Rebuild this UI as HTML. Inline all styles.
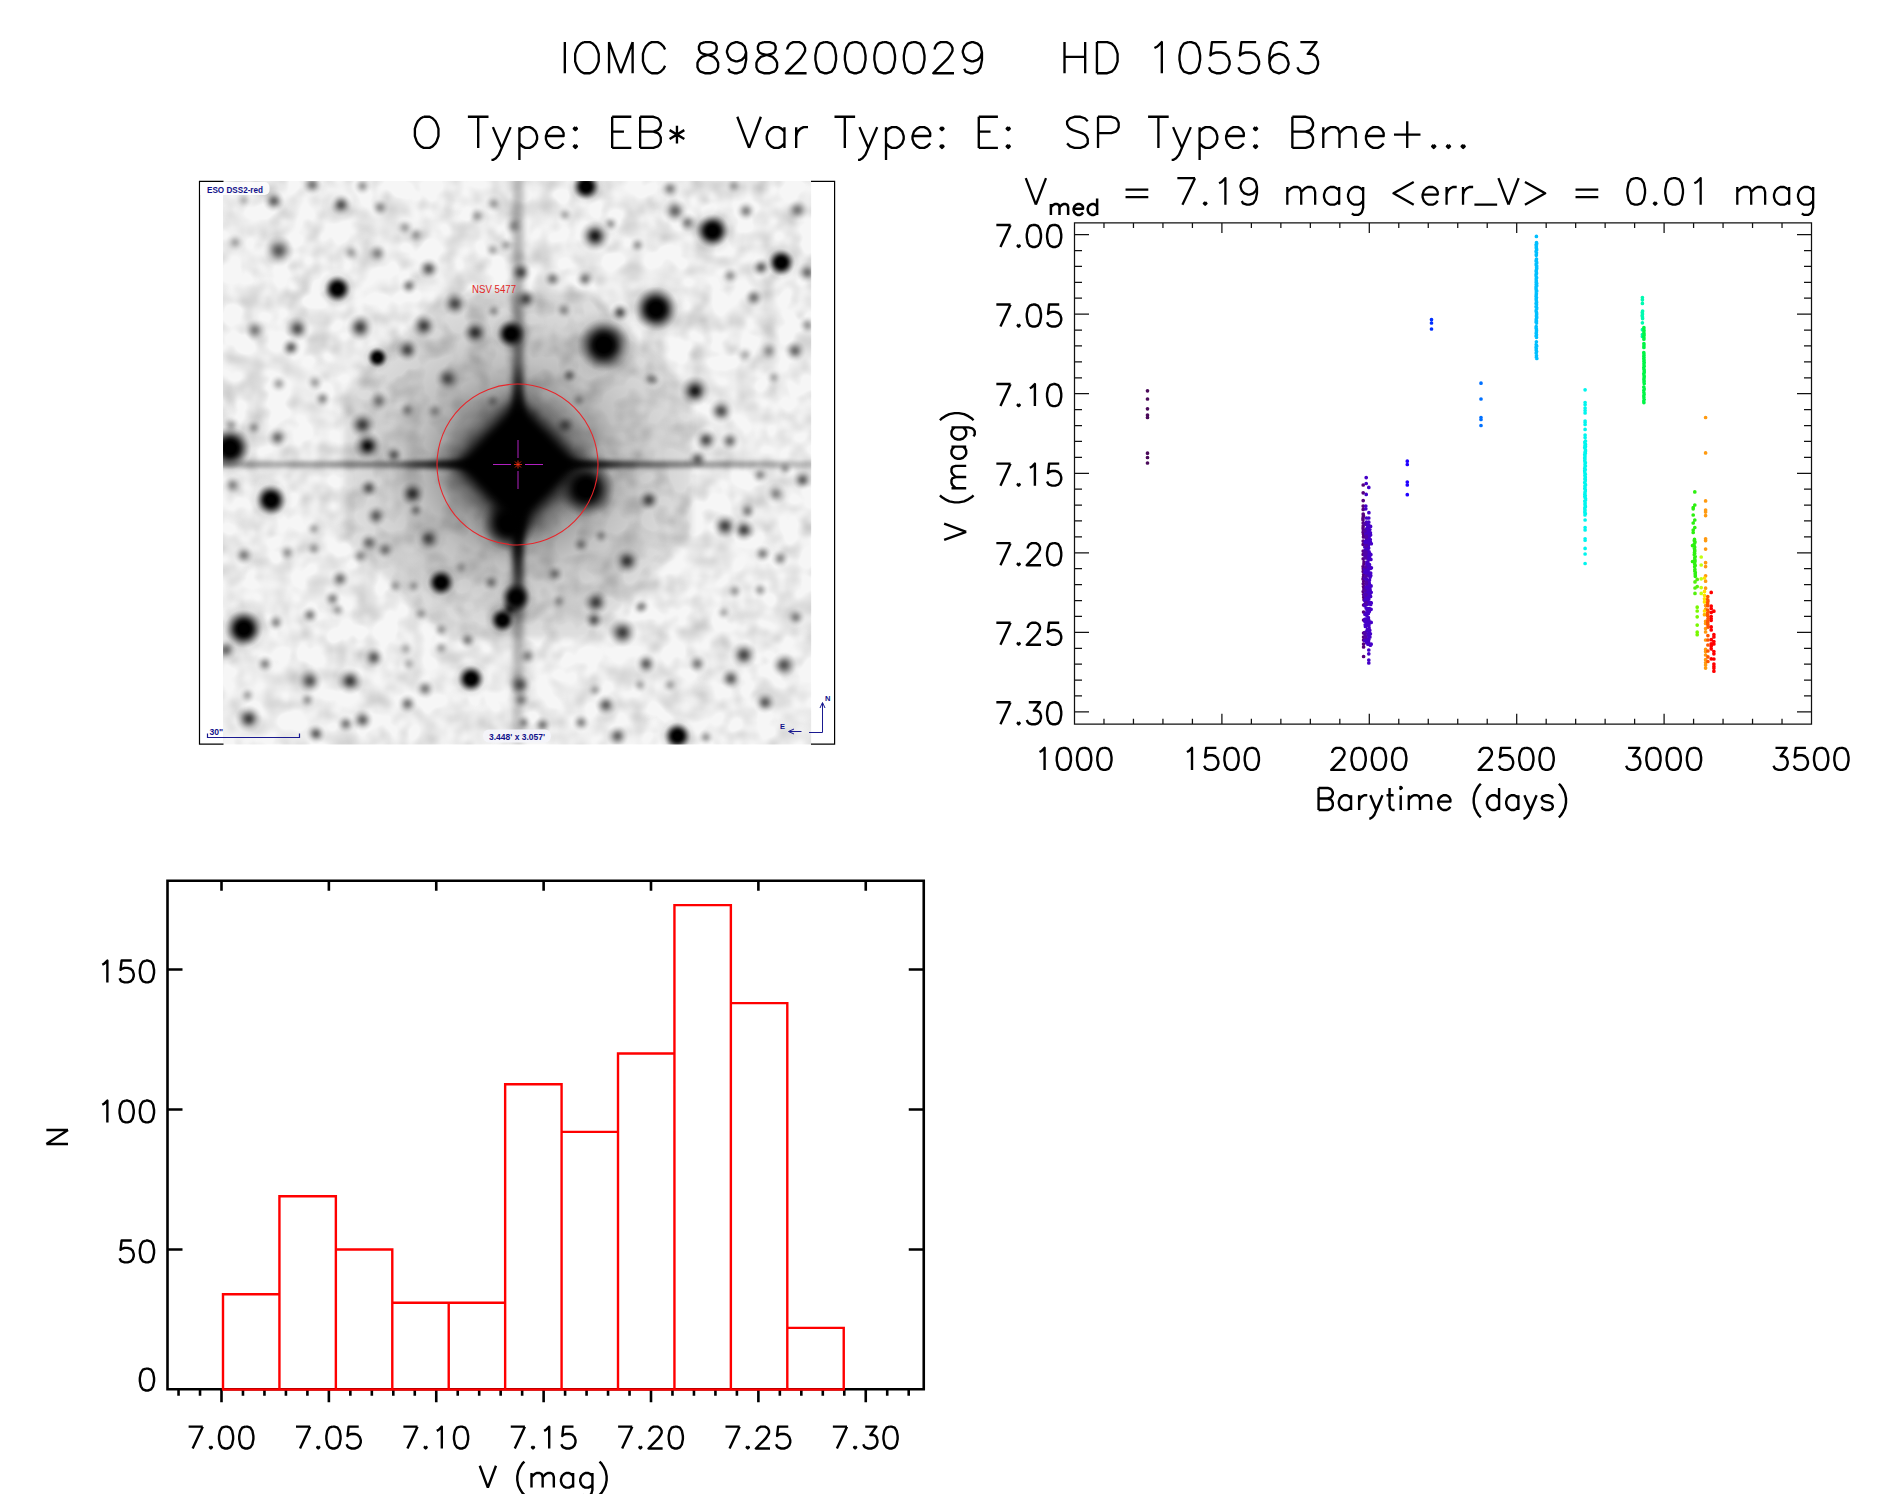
<!DOCTYPE html>
<html><head><meta charset="utf-8"><title>IOMC 8982000029</title><style>html,body{margin:0;padding:0;background:#fff;font-family:"Liberation Sans",sans-serif}svg{display:block}</style></head><body>
<svg width="1889" height="1494" viewBox="0 0 1889 1494">
<rect width="1889" height="1494" fill="#fff"/>
<path d="M564.83 42.08 L564.83 73.20 M583.99 42.08 L581.04 43.56 L578.10 46.52 L576.62 49.49 L575.15 53.93 L575.15 61.34 L576.62 65.79 L578.10 68.75 L581.04 71.72 L583.99 73.20 L589.89 73.20 L592.84 71.72 L595.78 68.75 L597.26 65.79 L598.73 61.34 L598.73 53.93 L597.26 49.49 L595.78 46.52 L592.84 43.56 L589.89 42.08 L583.99 42.08 M609.05 42.08 L609.05 73.20 M609.05 42.08 L620.84 73.20 M632.63 42.08 L620.84 73.20 M632.63 42.08 L632.63 73.20 M665.06 49.49 L663.59 46.52 L660.64 43.56 L657.69 42.08 L651.80 42.08 L648.85 43.56 L645.90 46.52 L644.43 49.49 L642.95 53.93 L642.95 61.34 L644.43 65.79 L645.90 68.75 L648.85 71.72 L651.80 73.20 L657.69 73.20 L660.64 71.72 L663.59 68.75 L665.06 65.79 M704.86 42.08 L700.44 43.56 L698.96 46.52 L698.96 49.49 L700.44 52.45 L703.39 53.93 L709.28 55.42 L713.70 56.90 L716.65 59.86 L718.13 62.83 L718.13 67.27 L716.65 70.24 L715.18 71.72 L710.76 73.20 L704.86 73.20 L700.44 71.72 L698.96 70.24 L697.49 67.27 L697.49 62.83 L698.96 59.86 L701.91 56.90 L706.33 55.42 L712.23 53.93 L715.18 52.45 L716.65 49.49 L716.65 46.52 L715.18 43.56 L710.76 42.08 L704.86 42.08 M746.13 52.45 L744.66 56.90 L741.71 59.86 L737.29 61.34 L735.81 61.34 L731.39 59.86 L728.44 56.90 L726.97 52.45 L726.97 50.97 L728.44 46.52 L731.39 43.56 L735.81 42.08 L737.29 42.08 L741.71 43.56 L744.66 46.52 L746.13 52.45 L746.13 59.86 L744.66 67.27 L741.71 71.72 L737.29 73.20 L734.34 73.20 L729.92 71.72 L728.44 68.75 M763.82 42.08 L759.40 43.56 L757.92 46.52 L757.92 49.49 L759.40 52.45 L762.35 53.93 L768.24 55.42 L772.66 56.90 L775.61 59.86 L777.09 62.83 L777.09 67.27 L775.61 70.24 L774.14 71.72 L769.72 73.20 L763.82 73.20 L759.40 71.72 L757.92 70.24 L756.45 67.27 L756.45 62.83 L757.92 59.86 L760.87 56.90 L765.29 55.42 L771.19 53.93 L774.14 52.45 L775.61 49.49 L775.61 46.52 L774.14 43.56 L769.72 42.08 L763.82 42.08 M787.40 49.49 L787.40 48.01 L788.88 45.04 L790.35 43.56 L793.30 42.08 L799.20 42.08 L802.14 43.56 L803.62 45.04 L805.09 48.01 L805.09 50.97 L803.62 53.93 L800.67 58.38 L785.93 73.20 L806.57 73.20 M824.25 42.08 L819.83 43.56 L816.88 48.01 L815.41 55.42 L815.41 59.86 L816.88 67.27 L819.83 71.72 L824.25 73.20 L827.20 73.20 L831.62 71.72 L834.57 67.27 L836.05 59.86 L836.05 55.42 L834.57 48.01 L831.62 43.56 L827.20 42.08 L824.25 42.08 M853.73 42.08 L849.31 43.56 L846.36 48.01 L844.89 55.42 L844.89 59.86 L846.36 67.27 L849.31 71.72 L853.73 73.20 L856.68 73.20 L861.10 71.72 L864.05 67.27 L865.53 59.86 L865.53 55.42 L864.05 48.01 L861.10 43.56 L856.68 42.08 L853.73 42.08 M883.21 42.08 L878.79 43.56 L875.84 48.01 L874.37 55.42 L874.37 59.86 L875.84 67.27 L878.79 71.72 L883.21 73.20 L886.16 73.20 L890.58 71.72 L893.53 67.27 L895.01 59.86 L895.01 55.42 L893.53 48.01 L890.58 43.56 L886.16 42.08 L883.21 42.08 M912.69 42.08 L908.27 43.56 L905.32 48.01 L903.85 55.42 L903.85 59.86 L905.32 67.27 L908.27 71.72 L912.69 73.20 L915.64 73.20 L920.06 71.72 L923.01 67.27 L924.49 59.86 L924.49 55.42 L923.01 48.01 L920.06 43.56 L915.64 42.08 L912.69 42.08 M934.80 49.49 L934.80 48.01 L936.28 45.04 L937.75 43.56 L940.70 42.08 L946.60 42.08 L949.54 43.56 L951.02 45.04 L952.49 48.01 L952.49 50.97 L951.02 53.93 L948.07 58.38 L933.33 73.20 L953.97 73.20 M981.97 52.45 L980.50 56.90 L977.55 59.86 L973.13 61.34 L971.65 61.34 L967.23 59.86 L964.28 56.90 L962.81 52.45 L962.81 50.97 L964.28 46.52 L967.23 43.56 L971.65 42.08 L973.13 42.08 L977.55 43.56 L980.50 46.52 L981.97 52.45 L981.97 59.86 L980.50 67.27 L977.55 71.72 L973.13 73.20 L970.18 73.20 L965.76 71.72 L964.28 68.75 M1064.52 42.08 L1064.52 73.20 M1085.15 42.08 L1085.15 73.20 M1064.52 56.90 L1085.15 56.90 M1096.94 42.08 L1096.94 73.20 M1096.94 42.08 L1107.26 42.08 L1111.68 43.56 L1114.63 46.52 L1116.11 49.49 L1117.58 53.93 L1117.58 61.34 L1116.11 65.79 L1114.63 68.75 L1111.68 71.72 L1107.26 73.20 L1096.94 73.20 M1154.43 48.01 L1157.38 46.52 L1161.80 42.08 L1161.80 73.20 M1188.33 42.08 L1183.91 43.56 L1180.96 48.01 L1179.49 55.42 L1179.49 59.86 L1180.96 67.27 L1183.91 71.72 L1188.33 73.20 L1191.28 73.20 L1195.70 71.72 L1198.65 67.27 L1200.12 59.86 L1200.12 55.42 L1198.65 48.01 L1195.70 43.56 L1191.28 42.08 L1188.33 42.08 M1226.66 42.08 L1211.92 42.08 L1210.44 55.42 L1211.92 53.93 L1216.34 52.45 L1220.76 52.45 L1225.18 53.93 L1228.13 56.90 L1229.60 61.34 L1229.60 64.31 L1228.13 68.75 L1225.18 71.72 L1220.76 73.20 L1216.34 73.20 L1211.92 71.72 L1210.44 70.24 L1208.97 67.27 M1256.14 42.08 L1241.40 42.08 L1239.92 55.42 L1241.40 53.93 L1245.82 52.45 L1250.24 52.45 L1254.66 53.93 L1257.61 56.90 L1259.08 61.34 L1259.08 64.31 L1257.61 68.75 L1254.66 71.72 L1250.24 73.20 L1245.82 73.20 L1241.40 71.72 L1239.92 70.24 L1238.45 67.27 M1287.09 46.52 L1285.62 43.56 L1281.19 42.08 L1278.25 42.08 L1273.82 43.56 L1270.88 48.01 L1269.40 55.42 L1269.40 62.83 L1270.88 68.75 L1273.82 71.72 L1278.25 73.20 L1279.72 73.20 L1284.14 71.72 L1287.09 68.75 L1288.56 64.31 L1288.56 62.83 L1287.09 58.38 L1284.14 55.42 L1279.72 53.93 L1278.25 53.93 L1273.82 55.42 L1270.88 58.38 L1269.40 62.83 M1300.36 42.08 L1316.57 42.08 L1307.73 53.93 L1312.15 53.93 L1315.10 55.42 L1316.57 56.90 L1318.04 61.34 L1318.04 64.31 L1316.57 68.75 L1313.62 71.72 L1309.20 73.20 L1304.78 73.20 L1300.36 71.72 L1298.88 70.24 L1297.41 67.27" fill="none" stroke="#000" stroke-width="2.35" stroke-linecap="butt" stroke-linejoin="round"/>
<path d="M423.72 116.78 L420.78 118.26 L417.83 121.22 L416.36 124.19 L414.89 128.63 L414.89 136.04 L416.36 140.49 L417.83 143.45 L420.78 146.42 L423.72 147.90 L429.61 147.90 L432.56 146.42 L435.50 143.45 L436.97 140.49 L438.45 136.04 L438.45 128.63 L436.97 124.19 L435.50 121.22 L432.56 118.26 L429.61 116.78 L423.72 116.78 M478.20 116.78 L478.20 147.90 M467.89 116.78 L488.50 116.78 M492.92 127.15 L501.75 147.90 M510.59 127.15 L501.75 147.90 L498.81 154.78 L495.87 158.21 L492.92 159.93 L491.45 159.93 M519.42 127.15 L519.42 159.93 M519.42 131.60 L522.37 128.63 L525.31 127.15 L529.73 127.15 L532.67 128.63 L535.62 131.60 L537.09 136.04 L537.09 139.01 L535.62 143.45 L532.67 146.42 L529.73 147.90 L525.31 147.90 L522.37 146.42 L519.42 143.45 M545.92 136.04 L563.59 136.04 L563.59 133.08 L562.12 130.12 L560.65 128.63 L557.70 127.15 L553.29 127.15 L550.34 128.63 L547.40 131.60 L545.92 136.04 L545.92 139.01 L547.40 143.45 L550.34 146.42 L553.29 147.90 L557.70 147.90 L560.65 146.42 L563.59 143.45 M575.37 127.15 L573.90 128.63 L575.37 130.12 L576.84 128.63 L575.37 127.15 M575.37 144.94 L573.90 146.42 L575.37 147.90 L576.84 146.42 L575.37 144.94 M612.18 116.78 L612.18 147.90 M612.18 116.78 L631.32 116.78 M612.18 131.60 L623.96 131.60 M612.18 147.90 L631.32 147.90 M640.15 116.78 L640.15 147.90 M640.15 116.78 L653.40 116.78 L657.82 118.26 L659.29 119.74 L660.76 122.71 L660.76 125.67 L659.29 128.63 L657.82 130.12 L653.40 131.60 M640.15 131.60 L653.40 131.60 L657.82 133.08 L659.29 134.56 L660.76 137.53 L660.76 141.97 L659.29 144.94 L657.82 146.42 L653.40 147.90 L640.15 147.90 M676.96 125.67 L676.96 143.45 M669.60 130.12 L684.32 139.01 M684.32 130.12 L669.60 139.01 M737.32 116.78 L749.10 147.90 M760.88 116.78 L749.10 147.90 M784.44 127.15 L784.44 147.90 M784.44 131.60 L781.49 128.63 L778.55 127.15 L774.13 127.15 L771.19 128.63 L768.24 131.60 L766.77 136.04 L766.77 139.01 L768.24 143.45 L771.19 146.42 L774.13 147.90 L778.55 147.90 L781.49 146.42 L784.44 143.45 M796.21 127.15 L796.21 147.90 M796.21 136.04 L797.69 131.60 L800.63 128.63 L803.58 127.15 L807.99 127.15 M844.80 116.78 L844.80 147.90 M834.49 116.78 L855.11 116.78 M859.52 127.15 L868.36 147.90 M877.19 127.15 L868.36 147.90 L865.41 154.78 L862.47 158.21 L859.52 159.93 L858.05 159.93 M886.02 127.15 L886.02 159.93 M886.02 131.60 L888.97 128.63 L891.91 127.15 L896.33 127.15 L899.28 128.63 L902.22 131.60 L903.69 136.04 L903.69 139.01 L902.22 143.45 L899.28 146.42 L896.33 147.90 L891.91 147.90 L888.97 146.42 L886.02 143.45 M912.53 136.04 L930.19 136.04 L930.19 133.08 L928.72 130.12 L927.25 128.63 L924.30 127.15 L919.89 127.15 L916.94 128.63 L914.00 131.60 L912.53 136.04 L912.53 139.01 L914.00 143.45 L916.94 146.42 L919.89 147.90 L924.30 147.90 L927.25 146.42 L930.19 143.45 M941.97 127.15 L940.50 128.63 L941.97 130.12 L943.44 128.63 L941.97 127.15 M941.97 144.94 L940.50 146.42 L941.97 147.90 L943.44 146.42 L941.97 144.94 M978.78 116.78 L978.78 147.90 M978.78 116.78 L997.92 116.78 M978.78 131.60 L990.56 131.60 M978.78 147.90 L997.92 147.90 M1008.23 127.15 L1006.75 128.63 L1008.23 130.12 L1009.70 128.63 L1008.23 127.15 M1008.23 144.94 L1006.75 146.42 L1008.23 147.90 L1009.70 146.42 L1008.23 144.94 M1087.73 121.22 L1084.79 118.26 L1080.37 116.78 L1074.48 116.78 L1070.06 118.26 L1067.12 121.22 L1067.12 124.19 L1068.59 127.15 L1070.06 128.63 L1073.01 130.12 L1081.84 133.08 L1084.79 134.56 L1086.26 136.04 L1087.73 139.01 L1087.73 143.45 L1084.79 146.42 L1080.37 147.90 L1074.48 147.90 L1070.06 146.42 L1067.12 143.45 M1098.04 116.78 L1098.04 147.90 M1098.04 116.78 L1111.29 116.78 L1115.70 118.26 L1117.18 119.74 L1118.65 122.71 L1118.65 127.15 L1117.18 130.12 L1115.70 131.60 L1111.29 133.08 L1098.04 133.08 M1158.40 116.78 L1158.40 147.90 M1148.09 116.78 L1168.71 116.78 M1173.12 127.15 L1181.96 147.90 M1190.79 127.15 L1181.96 147.90 L1179.01 154.78 L1176.07 158.21 L1173.12 159.93 L1171.65 159.93 M1199.62 127.15 L1199.62 159.93 M1199.62 131.60 L1202.57 128.63 L1205.51 127.15 L1209.93 127.15 L1212.88 128.63 L1215.82 131.60 L1217.29 136.04 L1217.29 139.01 L1215.82 143.45 L1212.88 146.42 L1209.93 147.90 L1205.51 147.90 L1202.57 146.42 L1199.62 143.45 M1226.13 136.04 L1243.79 136.04 L1243.79 133.08 L1242.32 130.12 L1240.85 128.63 L1237.90 127.15 L1233.49 127.15 L1230.54 128.63 L1227.60 131.60 L1226.13 136.04 L1226.13 139.01 L1227.60 143.45 L1230.54 146.42 L1233.49 147.90 L1237.90 147.90 L1240.85 146.42 L1243.79 143.45 M1255.57 127.15 L1254.10 128.63 L1255.57 130.12 L1257.04 128.63 L1255.57 127.15 M1255.57 144.94 L1254.10 146.42 L1255.57 147.90 L1257.04 146.42 L1255.57 144.94 M1292.38 116.78 L1292.38 147.90 M1292.38 116.78 L1305.63 116.78 L1310.05 118.26 L1311.52 119.74 L1312.99 122.71 L1312.99 125.67 L1311.52 128.63 L1310.05 130.12 L1305.63 131.60 M1292.38 131.60 L1305.63 131.60 L1310.05 133.08 L1311.52 134.56 L1312.99 137.53 L1312.99 141.97 L1311.52 144.94 L1310.05 146.42 L1305.63 147.90 L1292.38 147.90 M1323.30 127.15 L1323.30 147.90 M1323.30 133.08 L1327.71 128.63 L1330.66 127.15 L1335.08 127.15 L1338.02 128.63 L1339.49 133.08 L1339.49 147.90 M1339.49 133.08 L1343.91 128.63 L1346.85 127.15 L1351.27 127.15 L1354.22 128.63 L1355.69 133.08 L1355.69 147.90 M1365.99 136.04 L1383.66 136.04 L1383.66 133.08 L1382.19 130.12 L1380.72 128.63 L1377.77 127.15 L1373.36 127.15 L1370.41 128.63 L1367.47 131.60 L1365.99 136.04 L1365.99 139.01 L1367.47 143.45 L1370.41 146.42 L1373.36 147.90 L1377.77 147.90 L1380.72 146.42 L1383.66 143.45 M1407.22 121.22 L1407.22 147.90 M1393.97 134.56 L1420.47 134.56 M1433.72 144.94 L1432.25 146.42 L1433.72 147.90 L1435.19 146.42 L1433.72 144.94 M1448.44 144.94 L1446.97 146.42 L1448.44 147.90 L1449.92 146.42 L1448.44 144.94 M1463.17 144.94 L1461.69 146.42 L1463.17 147.90 L1464.64 146.42 L1463.17 144.94" fill="none" stroke="#000" stroke-width="2.35" stroke-linecap="butt" stroke-linejoin="round"/>
<defs>
<clipPath id="imclip"><rect x="223" y="181" width="588.2" height="563.6"/></clipPath>
<radialGradient id="sg"><stop offset="0" stop-color="#000" stop-opacity="1"/><stop offset="0.15" stop-color="#000" stop-opacity="0.93"/><stop offset="0.3" stop-color="#000" stop-opacity="0.75"/><stop offset="0.45" stop-color="#000" stop-opacity="0.52"/><stop offset="0.6" stop-color="#000" stop-opacity="0.3"/><stop offset="0.75" stop-color="#000" stop-opacity="0.14"/><stop offset="0.9" stop-color="#000" stop-opacity="0.04"/><stop offset="1" stop-color="#000" stop-opacity="0"/></radialGradient>
<radialGradient id="sd"><stop offset="0" stop-color="#000" stop-opacity="1"/><stop offset="0.12" stop-color="#000" stop-opacity="0.97"/><stop offset="0.25" stop-color="#000" stop-opacity="0.86"/><stop offset="0.38" stop-color="#000" stop-opacity="0.66"/><stop offset="0.5" stop-color="#000" stop-opacity="0.45"/><stop offset="0.62" stop-color="#000" stop-opacity="0.28"/><stop offset="0.75" stop-color="#000" stop-opacity="0.14"/><stop offset="0.88" stop-color="#000" stop-opacity="0.05"/><stop offset="1" stop-color="#000" stop-opacity="0"/></radialGradient>
<radialGradient id="sx"><stop offset="0" stop-color="#000" stop-opacity="1"/><stop offset="0.28" stop-color="#000" stop-opacity="1"/><stop offset="0.4" stop-color="#000" stop-opacity="0.9"/><stop offset="0.52" stop-color="#000" stop-opacity="0.7"/><stop offset="0.64" stop-color="#000" stop-opacity="0.46"/><stop offset="0.76" stop-color="#000" stop-opacity="0.25"/><stop offset="0.88" stop-color="#000" stop-opacity="0.09"/><stop offset="1" stop-color="#000" stop-opacity="0"/></radialGradient>
<radialGradient id="halo"><stop offset="0" stop-color="#000" stop-opacity="0.5"/><stop offset="0.3" stop-color="#000" stop-opacity="0.42"/><stop offset="0.45" stop-color="#000" stop-opacity="0.26"/><stop offset="0.6" stop-color="#000" stop-opacity="0.13"/><stop offset="0.8" stop-color="#000" stop-opacity="0.05"/><stop offset="1" stop-color="#000" stop-opacity="0"/></radialGradient>
<linearGradient id="hsp" x1="223" x2="811.2" y1="0" y2="0" gradientUnits="userSpaceOnUse">
<stop offset="0" stop-color="#000" stop-opacity="0.28"/>
<stop offset="0.15" stop-color="#000" stop-opacity="0.32"/>
<stop offset="0.3" stop-color="#000" stop-opacity="0.45"/>
<stop offset="0.4" stop-color="#000" stop-opacity="0.75"/>
<stop offset="0.5" stop-color="#000" stop-opacity="1"/>
<stop offset="0.6" stop-color="#000" stop-opacity="0.8"/>
<stop offset="0.68" stop-color="#000" stop-opacity="0.55"/>
<stop offset="0.8" stop-color="#000" stop-opacity="0.36"/>
<stop offset="1" stop-color="#000" stop-opacity="0.22"/>
</linearGradient>
<linearGradient id="vsp" x1="0" x2="0" y1="181" y2="744.6" gradientUnits="userSpaceOnUse">
<stop offset="0" stop-color="#000" stop-opacity="0.24"/>
<stop offset="0.2" stop-color="#000" stop-opacity="0.3"/>
<stop offset="0.32" stop-color="#000" stop-opacity="0.5"/>
<stop offset="0.42" stop-color="#000" stop-opacity="0.85"/>
<stop offset="0.5" stop-color="#000" stop-opacity="1"/>
<stop offset="0.62" stop-color="#000" stop-opacity="0.95"/>
<stop offset="0.72" stop-color="#000" stop-opacity="0.65"/>
<stop offset="0.8" stop-color="#000" stop-opacity="0.32"/>
<stop offset="0.9" stop-color="#000" stop-opacity="0.22"/>
<stop offset="1" stop-color="#000" stop-opacity="0.12"/>
</linearGradient>
<filter id="b2" filterUnits="userSpaceOnUse" x="180" y="140" width="700" height="650"><feGaussianBlur stdDeviation="2"/></filter>
<filter id="b3" filterUnits="userSpaceOnUse" x="180" y="140" width="700" height="650"><feGaussianBlur stdDeviation="3.2"/></filter>
<filter id="b6" filterUnits="userSpaceOnUse" x="180" y="140" width="700" height="650"><feGaussianBlur stdDeviation="6"/></filter>
<filter id="b10" filterUnits="userSpaceOnUse" x="180" y="140" width="700" height="650"><feGaussianBlur stdDeviation="10"/></filter>
<filter id="noise" x="0" y="0" width="100%" height="100%"><feTurbulence type="fractalNoise" baseFrequency="0.045" numOctaves="2" seed="11"/><feColorMatrix type="matrix" values="0 0 0 0 0  0 0 0 0 0  0 0 0 0 0  0.24 0.24 0 0 -0.2"/></filter>
</defs>
<g clip-path="url(#imclip)">
<rect x="223" y="181" width="588.2" height="563.6" fill="#f6f6f6"/>
<rect x="223" y="181" width="588.2" height="563.6" filter="url(#noise)"/>
<polygon points="691.7,536.4 589.9,638.2 446.1,638.2 344.3,536.4 344.3,392.6 446.1,290.8 589.9,290.8 691.7,392.6" fill="#000" opacity="0.10" filter="url(#b3)"/>
<circle cx="518" cy="464.5" r="170" fill="url(#halo)"/>
<rect x="213" y="461" width="608.2" height="7" fill="url(#hsp)" filter="url(#b2)"/>
<rect x="512.5" y="171" width="11" height="583.6" fill="url(#vsp)" filter="url(#b3)"/>
<polygon points="398,464.5 518,457.5 638,464.5 518,471.5" fill="#000" opacity="0.75" filter="url(#b3)"/>
<polygon points="518,359.5 526,464.5 518,574.5 510,464.5" fill="#000" opacity="0.75" filter="url(#b3)"/>
<polygon points="448,464.5 518,394.5 588,464.5 518,534.5" fill="#000" opacity="0.55" filter="url(#b10)"/>
<polygon points="456,464.5 518,400.5 580,464.5 518,528.5" fill="#000" filter="url(#b6)"/>
<polygon points="466,464.5 518,410.5 570,464.5 518,518.5" fill="#000" filter="url(#b3)"/>
<circle cx="337.5" cy="288.8" r="19.5" fill="url(#sg)" opacity="0.34"/>
<circle cx="337.5" cy="288.8" r="14.0" fill="url(#sx)"/>
<circle cx="603.8" cy="345.0" r="37.5" fill="url(#sg)" opacity="0.34"/>
<circle cx="603.8" cy="345.0" r="26.9" fill="url(#sx)"/>
<circle cx="656.0" cy="309.0" r="31.5" fill="url(#sg)" opacity="0.34"/>
<circle cx="656.0" cy="309.0" r="22.6" fill="url(#sx)"/>
<circle cx="511.0" cy="333.8" r="21.0" fill="url(#sg)" opacity="0.34"/>
<circle cx="511.0" cy="333.8" r="15.0" fill="url(#sx)"/>
<circle cx="586.0" cy="186.5" r="19.5" fill="url(#sg)" opacity="0.34"/>
<circle cx="586.0" cy="186.5" r="14.0" fill="url(#sx)"/>
<circle cx="712.5" cy="231.0" r="24.0" fill="url(#sg)" opacity="0.34"/>
<circle cx="712.5" cy="231.0" r="17.2" fill="url(#sx)"/>
<circle cx="781.2" cy="262.5" r="19.5" fill="url(#sg)" opacity="0.34"/>
<circle cx="781.2" cy="262.5" r="14.0" fill="url(#sx)"/>
<circle cx="230.0" cy="448.0" r="30.0" fill="url(#sg)" opacity="0.34"/>
<circle cx="230.0" cy="448.0" r="21.5" fill="url(#sx)"/>
<circle cx="271.0" cy="500.0" r="22.5" fill="url(#sg)" opacity="0.34"/>
<circle cx="271.0" cy="500.0" r="16.1" fill="url(#sx)"/>
<circle cx="243.8" cy="628.8" r="27.0" fill="url(#sg)" opacity="0.34"/>
<circle cx="243.8" cy="628.8" r="19.3" fill="url(#sx)"/>
<circle cx="441.0" cy="582.5" r="19.5" fill="url(#sg)" opacity="0.34"/>
<circle cx="441.0" cy="582.5" r="14.0" fill="url(#sx)"/>
<circle cx="471.0" cy="678.8" r="19.5" fill="url(#sg)" opacity="0.34"/>
<circle cx="471.0" cy="678.8" r="14.0" fill="url(#sx)"/>
<circle cx="586.0" cy="488.5" r="40.5" fill="url(#sg)" opacity="0.34"/>
<circle cx="586.0" cy="488.5" r="29.0" fill="url(#sx)"/>
<circle cx="508.5" cy="523.5" r="39.0" fill="url(#sg)" opacity="0.34"/>
<circle cx="508.5" cy="523.5" r="27.9" fill="url(#sx)"/>
<circle cx="516.0" cy="597.5" r="22.5" fill="url(#sg)" opacity="0.34"/>
<circle cx="516.0" cy="597.5" r="16.1" fill="url(#sx)"/>
<circle cx="502.5" cy="620.0" r="18.0" fill="url(#sg)" opacity="0.34"/>
<circle cx="502.5" cy="620.0" r="12.9" fill="url(#sx)"/>
<circle cx="510.0" cy="609.0" r="11.4" fill="url(#sg)" opacity="0.77"/>
<circle cx="677.5" cy="736.0" r="19.5" fill="url(#sg)" opacity="0.34"/>
<circle cx="677.5" cy="736.0" r="14.0" fill="url(#sx)"/>
<circle cx="377.5" cy="357.5" r="15.0" fill="url(#sg)" opacity="0.34"/>
<circle cx="377.5" cy="357.5" r="10.8" fill="url(#sx)"/>
<circle cx="695.0" cy="391.0" r="16.1" fill="url(#sg)" opacity="0.90"/>
<circle cx="367.5" cy="446.0" r="15.2" fill="url(#sg)" opacity="0.95"/>
<circle cx="595.0" cy="236.0" r="16.1" fill="url(#sg)" opacity="0.90"/>
<circle cx="475.0" cy="332.5" r="13.3" fill="url(#sg)" opacity="0.73"/>
<circle cx="423.8" cy="326.0" r="13.3" fill="url(#sg)" opacity="0.69"/>
<circle cx="407.5" cy="350.0" r="12.3" fill="url(#sg)" opacity="0.65"/>
<circle cx="360.0" cy="327.5" r="14.2" fill="url(#sg)" opacity="0.69"/>
<circle cx="297.5" cy="328.8" r="13.3" fill="url(#sg)" opacity="0.65"/>
<circle cx="291.0" cy="347.5" r="10.4" fill="url(#sg)" opacity="0.56"/>
<circle cx="255.0" cy="330.0" r="11.4" fill="url(#sg)" opacity="0.43"/>
<circle cx="278.8" cy="251.0" r="16.1" fill="url(#sg)" opacity="0.60"/>
<circle cx="273.8" cy="201.0" r="11.4" fill="url(#sg)" opacity="0.56"/>
<circle cx="341.0" cy="205.0" r="11.4" fill="url(#sg)" opacity="0.60"/>
<circle cx="312.5" cy="185.0" r="10.4" fill="url(#sg)" opacity="0.43"/>
<circle cx="362.5" cy="186.0" r="9.5" fill="url(#sg)" opacity="0.34"/>
<circle cx="380.0" cy="207.5" r="9.5" fill="url(#sg)" opacity="0.34"/>
<circle cx="428.8" cy="268.8" r="11.4" fill="url(#sg)" opacity="0.56"/>
<circle cx="408.8" cy="286.0" r="9.5" fill="url(#sg)" opacity="0.43"/>
<circle cx="455.0" cy="303.8" r="13.3" fill="url(#sg)" opacity="0.65"/>
<circle cx="521.0" cy="272.5" r="11.4" fill="url(#sg)" opacity="0.60"/>
<circle cx="526.0" cy="298.8" r="11.4" fill="url(#sg)" opacity="0.60"/>
<circle cx="552.5" cy="278.8" r="9.5" fill="url(#sg)" opacity="0.39"/>
<circle cx="585.0" cy="278.8" r="10.4" fill="url(#sg)" opacity="0.47"/>
<circle cx="620.0" cy="312.5" r="10.4" fill="url(#sg)" opacity="0.60"/>
<circle cx="493.8" cy="311.0" r="8.5" fill="url(#sg)" opacity="0.30"/>
<circle cx="563.8" cy="310.0" r="9.5" fill="url(#sg)" opacity="0.30"/>
<circle cx="447.5" cy="378.8" r="13.3" fill="url(#sg)" opacity="0.60"/>
<circle cx="278.8" cy="383.8" r="9.5" fill="url(#sg)" opacity="0.30"/>
<circle cx="315.0" cy="382.5" r="9.5" fill="url(#sg)" opacity="0.30"/>
<circle cx="322.5" cy="398.8" r="9.5" fill="url(#sg)" opacity="0.39"/>
<circle cx="378.8" cy="401.0" r="11.4" fill="url(#sg)" opacity="0.43"/>
<circle cx="407.5" cy="410.0" r="9.5" fill="url(#sg)" opacity="0.34"/>
<circle cx="435.0" cy="411.0" r="9.5" fill="url(#sg)" opacity="0.30"/>
<circle cx="362.5" cy="425.0" r="14.2" fill="url(#sg)" opacity="0.69"/>
<circle cx="393.8" cy="455.0" r="10.4" fill="url(#sg)" opacity="0.52"/>
<circle cx="277.5" cy="437.5" r="11.4" fill="url(#sg)" opacity="0.52"/>
<circle cx="231.0" cy="425.0" r="9.5" fill="url(#sg)" opacity="0.30"/>
<circle cx="253.8" cy="427.5" r="8.5" fill="url(#sg)" opacity="0.30"/>
<circle cx="232.5" cy="485.0" r="9.5" fill="url(#sg)" opacity="0.34"/>
<circle cx="412.5" cy="493.8" r="13.3" fill="url(#sg)" opacity="0.73"/>
<circle cx="368.8" cy="488.0" r="10.4" fill="url(#sg)" opacity="0.56"/>
<circle cx="376.0" cy="516.0" r="11.4" fill="url(#sg)" opacity="0.52"/>
<circle cx="416.0" cy="510.0" r="8.5" fill="url(#sg)" opacity="0.34"/>
<circle cx="428.5" cy="538.5" r="13.3" fill="url(#sg)" opacity="0.65"/>
<circle cx="648.8" cy="500.0" r="11.4" fill="url(#sg)" opacity="0.60"/>
<circle cx="565.0" cy="425.0" r="10.4" fill="url(#sg)" opacity="0.43"/>
<circle cx="492.5" cy="401.0" r="8.5" fill="url(#sg)" opacity="0.26"/>
<circle cx="477.5" cy="216.0" r="9.5" fill="url(#sg)" opacity="0.30"/>
<circle cx="493.8" cy="203.8" r="9.5" fill="url(#sg)" opacity="0.30"/>
<circle cx="513.8" cy="226.0" r="10.4" fill="url(#sg)" opacity="0.34"/>
<circle cx="405.0" cy="227.5" r="9.5" fill="url(#sg)" opacity="0.30"/>
<circle cx="351.0" cy="252.5" r="9.5" fill="url(#sg)" opacity="0.30"/>
<circle cx="377.5" cy="253.8" r="10.4" fill="url(#sg)" opacity="0.39"/>
<circle cx="492.5" cy="250.0" r="8.5" fill="url(#sg)" opacity="0.26"/>
<circle cx="506.0" cy="245.0" r="8.5" fill="url(#sg)" opacity="0.26"/>
<circle cx="235.0" cy="242.5" r="9.5" fill="url(#sg)" opacity="0.30"/>
<circle cx="565.0" cy="215.0" r="8.5" fill="url(#sg)" opacity="0.26"/>
<circle cx="570.0" cy="375.0" r="8.5" fill="url(#sg)" opacity="0.26"/>
<circle cx="653.8" cy="380.0" r="8.5" fill="url(#sg)" opacity="0.26"/>
<circle cx="675.0" cy="211.0" r="13.3" fill="url(#sg)" opacity="0.56"/>
<circle cx="687.5" cy="222.5" r="10.4" fill="url(#sg)" opacity="0.43"/>
<circle cx="670.0" cy="188.8" r="10.4" fill="url(#sg)" opacity="0.43"/>
<circle cx="746.0" cy="211.0" r="10.4" fill="url(#sg)" opacity="0.43"/>
<circle cx="797.5" cy="210.0" r="11.4" fill="url(#sg)" opacity="0.43"/>
<circle cx="733.8" cy="186.0" r="8.5" fill="url(#sg)" opacity="0.26"/>
<circle cx="637.5" cy="245.0" r="8.5" fill="url(#sg)" opacity="0.30"/>
<circle cx="611.0" cy="223.8" r="8.5" fill="url(#sg)" opacity="0.30"/>
<circle cx="761.0" cy="267.5" r="10.4" fill="url(#sg)" opacity="0.56"/>
<circle cx="721.0" cy="411.0" r="13.3" fill="url(#sg)" opacity="0.65"/>
<circle cx="706.0" cy="440.0" r="12.3" fill="url(#sg)" opacity="0.65"/>
<circle cx="730.0" cy="441.0" r="10.4" fill="url(#sg)" opacity="0.47"/>
<circle cx="697.5" cy="458.8" r="10.4" fill="url(#sg)" opacity="0.52"/>
<circle cx="795.0" cy="351.0" r="11.4" fill="url(#sg)" opacity="0.52"/>
<circle cx="768.8" cy="351.0" r="10.4" fill="url(#sg)" opacity="0.34"/>
<circle cx="745.0" cy="355.0" r="9.5" fill="url(#sg)" opacity="0.26"/>
<circle cx="753.8" cy="297.5" r="10.4" fill="url(#sg)" opacity="0.43"/>
<circle cx="730.0" cy="276.0" r="9.5" fill="url(#sg)" opacity="0.34"/>
<circle cx="807.5" cy="272.5" r="11.4" fill="url(#sg)" opacity="0.52"/>
<circle cx="807.5" cy="325.0" r="9.5" fill="url(#sg)" opacity="0.34"/>
<circle cx="773.8" cy="377.5" r="8.5" fill="url(#sg)" opacity="0.26"/>
<circle cx="725.0" cy="526.0" r="13.3" fill="url(#sg)" opacity="0.69"/>
<circle cx="743.8" cy="530.0" r="12.3" fill="url(#sg)" opacity="0.69"/>
<circle cx="747.5" cy="511.0" r="9.5" fill="url(#sg)" opacity="0.39"/>
<circle cx="776.0" cy="493.8" r="11.4" fill="url(#sg)" opacity="0.43"/>
<circle cx="802.5" cy="480.0" r="10.4" fill="url(#sg)" opacity="0.52"/>
<circle cx="760.0" cy="475.0" r="9.5" fill="url(#sg)" opacity="0.39"/>
<circle cx="785.0" cy="468.8" r="8.5" fill="url(#sg)" opacity="0.30"/>
<circle cx="568.8" cy="376.0" r="8.5" fill="url(#sg)" opacity="0.26"/>
<circle cx="578.8" cy="400.0" r="8.5" fill="url(#sg)" opacity="0.26"/>
<circle cx="650.0" cy="378.8" r="8.5" fill="url(#sg)" opacity="0.26"/>
<circle cx="350.0" cy="681.0" r="14.2" fill="url(#sg)" opacity="0.73"/>
<circle cx="310.0" cy="681.0" r="13.3" fill="url(#sg)" opacity="0.60"/>
<circle cx="248.8" cy="718.8" r="14.2" fill="url(#sg)" opacity="0.73"/>
<circle cx="368.8" cy="542.5" r="10.4" fill="url(#sg)" opacity="0.43"/>
<circle cx="385.0" cy="550.0" r="10.4" fill="url(#sg)" opacity="0.43"/>
<circle cx="340.0" cy="578.8" r="10.4" fill="url(#sg)" opacity="0.47"/>
<circle cx="332.5" cy="598.8" r="9.5" fill="url(#sg)" opacity="0.39"/>
<circle cx="310.0" cy="615.0" r="9.5" fill="url(#sg)" opacity="0.43"/>
<circle cx="276.0" cy="622.5" r="9.5" fill="url(#sg)" opacity="0.39"/>
<circle cx="243.8" cy="555.0" r="10.4" fill="url(#sg)" opacity="0.43"/>
<circle cx="287.5" cy="552.5" r="9.5" fill="url(#sg)" opacity="0.34"/>
<circle cx="265.0" cy="663.8" r="9.5" fill="url(#sg)" opacity="0.39"/>
<circle cx="373.8" cy="657.5" r="11.4" fill="url(#sg)" opacity="0.56"/>
<circle cx="425.0" cy="688.8" r="10.4" fill="url(#sg)" opacity="0.43"/>
<circle cx="407.5" cy="703.8" r="10.4" fill="url(#sg)" opacity="0.47"/>
<circle cx="362.5" cy="720.0" r="11.4" fill="url(#sg)" opacity="0.56"/>
<circle cx="346.0" cy="723.8" r="9.5" fill="url(#sg)" opacity="0.43"/>
<circle cx="316.0" cy="733.8" r="10.4" fill="url(#sg)" opacity="0.56"/>
<circle cx="520.0" cy="685.0" r="12.3" fill="url(#sg)" opacity="0.52"/>
<circle cx="521.0" cy="700.0" r="9.5" fill="url(#sg)" opacity="0.34"/>
<circle cx="627.0" cy="561.0" r="14.2" fill="url(#sg)" opacity="0.73"/>
<circle cx="596.0" cy="602.5" r="13.3" fill="url(#sg)" opacity="0.69"/>
<circle cx="594.0" cy="620.0" r="10.4" fill="url(#sg)" opacity="0.56"/>
<circle cx="622.5" cy="632.5" r="15.2" fill="url(#sg)" opacity="0.73"/>
<circle cx="646.0" cy="663.8" r="11.4" fill="url(#sg)" opacity="0.56"/>
<circle cx="606.0" cy="705.0" r="11.4" fill="url(#sg)" opacity="0.56"/>
<circle cx="555.0" cy="573.8" r="9.5" fill="url(#sg)" opacity="0.39"/>
<circle cx="491.0" cy="582.5" r="9.5" fill="url(#sg)" opacity="0.39"/>
<circle cx="581.0" cy="544.5" r="9.5" fill="url(#sg)" opacity="0.39"/>
<circle cx="601.0" cy="536.0" r="8.5" fill="url(#sg)" opacity="0.30"/>
<circle cx="467.5" cy="640.0" r="9.5" fill="url(#sg)" opacity="0.39"/>
<circle cx="441.0" cy="648.0" r="8.5" fill="url(#sg)" opacity="0.26"/>
<circle cx="617.5" cy="736.0" r="11.4" fill="url(#sg)" opacity="0.56"/>
<circle cx="542.5" cy="725.0" r="9.5" fill="url(#sg)" opacity="0.43"/>
<circle cx="523.8" cy="722.5" r="8.5" fill="url(#sg)" opacity="0.34"/>
<circle cx="595.0" cy="690.0" r="8.5" fill="url(#sg)" opacity="0.26"/>
<circle cx="640.0" cy="685.0" r="8.5" fill="url(#sg)" opacity="0.26"/>
<circle cx="640.0" cy="607.5" r="8.5" fill="url(#sg)" opacity="0.26"/>
<circle cx="413.8" cy="586.0" r="8.5" fill="url(#sg)" opacity="0.26"/>
<circle cx="421.0" cy="613.8" r="8.5" fill="url(#sg)" opacity="0.26"/>
<circle cx="307.5" cy="700.0" r="8.5" fill="url(#sg)" opacity="0.30"/>
<circle cx="247.5" cy="695.0" r="8.5" fill="url(#sg)" opacity="0.26"/>
<circle cx="226.0" cy="650.0" r="11.4" fill="url(#sg)" opacity="0.52"/>
<circle cx="743.8" cy="655.0" r="14.2" fill="url(#sg)" opacity="0.69"/>
<circle cx="783.8" cy="665.0" r="13.3" fill="url(#sg)" opacity="0.60"/>
<circle cx="731.0" cy="678.8" r="11.4" fill="url(#sg)" opacity="0.56"/>
<circle cx="697.5" cy="663.8" r="10.4" fill="url(#sg)" opacity="0.43"/>
<circle cx="765.0" cy="702.5" r="11.4" fill="url(#sg)" opacity="0.56"/>
<circle cx="360.0" cy="556.2" r="9.5" fill="url(#sg)" opacity="0.34"/>
<circle cx="313.8" cy="548.8" r="8.5" fill="url(#sg)" opacity="0.26"/>
<circle cx="313.8" cy="528.8" r="8.5" fill="url(#sg)" opacity="0.26"/>
<circle cx="337.5" cy="610.0" r="8.5" fill="url(#sg)" opacity="0.26"/>
<circle cx="395.0" cy="586.0" r="8.5" fill="url(#sg)" opacity="0.26"/>
<circle cx="441.2" cy="630.0" r="8.5" fill="url(#sg)" opacity="0.26"/>
<circle cx="406.2" cy="648.8" r="8.5" fill="url(#sg)" opacity="0.21"/>
<circle cx="408.8" cy="663.8" r="8.5" fill="url(#sg)" opacity="0.21"/>
<circle cx="461.2" cy="567.5" r="8.5" fill="url(#sg)" opacity="0.21"/>
<circle cx="416.0" cy="234.8" r="8.5" fill="url(#sg)" opacity="0.26"/>
<circle cx="244.0" cy="200.0" r="8.5" fill="url(#sg)" opacity="0.21"/>
<circle cx="762.5" cy="553.8" r="9.5" fill="url(#sg)" opacity="0.39"/>
<circle cx="780.0" cy="558.8" r="9.5" fill="url(#sg)" opacity="0.39"/>
<circle cx="735.0" cy="591.0" r="8.5" fill="url(#sg)" opacity="0.26"/>
<circle cx="760.0" cy="590.0" r="8.5" fill="url(#sg)" opacity="0.30"/>
<circle cx="723.8" cy="612.5" r="8.5" fill="url(#sg)" opacity="0.26"/>
<circle cx="796.0" cy="617.5" r="9.5" fill="url(#sg)" opacity="0.39"/>
<circle cx="642.5" cy="606.0" r="8.5" fill="url(#sg)" opacity="0.26"/>
<circle cx="527.5" cy="656.0" r="9.5" fill="url(#sg)" opacity="0.34"/>
<circle cx="670.0" cy="685.0" r="8.5" fill="url(#sg)" opacity="0.26"/>
<circle cx="581.0" cy="722.5" r="9.5" fill="url(#sg)" opacity="0.39"/>
<circle cx="706.0" cy="737.5" r="8.5" fill="url(#sg)" opacity="0.30"/>
<circle cx="558.8" cy="601.0" r="8.5" fill="url(#sg)" opacity="0.26"/>
</g>
<path d="M223.5 181.4 H199.5 V744.2 H223.5 M811 181.4 H834.6 V744.2 H811" fill="none" stroke="#000" stroke-width="1.2"/>
<circle cx="517.5" cy="464.5" r="80.5" fill="none" stroke="#e8252a" stroke-width="1.1"/>
<path d="M493 464.5H511 M525 464.5H543 M518 440V458 M518 471V489" stroke="#b020c0" stroke-width="1" fill="none"/>
<path d="M515 461.5L521 467.5 M521 461.5L515 467.5 M514 464.5h8 M518 460.5v8" stroke="#ff3010" stroke-width="0.8" fill="none"/>
<text x="472" y="293" font-family="Liberation Sans, sans-serif" font-size="10" fill="#e02828" textLength="44" lengthAdjust="spacingAndGlyphs">NSV 5477</text>
<rect x="200.5" y="182" width="69" height="13" rx="5" fill="#fff" opacity="0.85"/>
<rect x="200.5" y="182" width="23" height="13" fill="#fff"/>
<text x="207" y="193" font-family="Liberation Sans, sans-serif" font-size="9.5" font-weight="bold" fill="#10108a" textLength="56" lengthAdjust="spacingAndGlyphs">ESO DSS2-red</text>
<path d="M207.5 733.5V737.5H299.5V733.5" stroke="#1a1a90" stroke-width="1.2" fill="none"/>
<text x="209.5" y="734.6" font-family="Liberation Sans, sans-serif" font-size="8.6" font-weight="bold" fill="#10108a">30&quot;</text>
<rect x="483" y="729.5" width="68" height="13" rx="6" fill="#f4f4fa" opacity="0.9"/>
<text x="489" y="740" font-family="Liberation Sans, sans-serif" font-size="9.5" font-weight="bold" fill="#10108a" textLength="56" lengthAdjust="spacingAndGlyphs">3.448' x 3.057'</text>
<path d="M822.5 732.5V703 M820 708L822.5 702.5L825 708 M822.5 732.5H809 M801.5 731.5H789 M794 729L788.5 731.5L794 734" stroke="#1a1a90" stroke-width="1" fill="none"/>
<text x="825" y="701" font-family="Liberation Sans, sans-serif" font-size="7.5" font-weight="bold" fill="#10108a">N</text>
<text x="780" y="729" font-family="Liberation Sans, sans-serif" font-size="7.5" font-weight="bold" fill="#10108a">E</text>
<path d="M1074.50 222.80 H1811.50 V724.00 H1074.50 Z M1103.98 222.80 v5.2 M1103.98 724.00 v-5.2 M1133.46 222.80 v5.2 M1133.46 724.00 v-5.2 M1162.94 222.80 v5.2 M1162.94 724.00 v-5.2 M1192.42 222.80 v5.2 M1192.42 724.00 v-5.2 M1221.90 222.80 v10.3 M1221.90 724.00 v-10.3 M1251.38 222.80 v5.2 M1251.38 724.00 v-5.2 M1280.86 222.80 v5.2 M1280.86 724.00 v-5.2 M1310.34 222.80 v5.2 M1310.34 724.00 v-5.2 M1339.82 222.80 v5.2 M1339.82 724.00 v-5.2 M1369.30 222.80 v10.3 M1369.30 724.00 v-10.3 M1398.78 222.80 v5.2 M1398.78 724.00 v-5.2 M1428.26 222.80 v5.2 M1428.26 724.00 v-5.2 M1457.74 222.80 v5.2 M1457.74 724.00 v-5.2 M1487.22 222.80 v5.2 M1487.22 724.00 v-5.2 M1516.70 222.80 v10.3 M1516.70 724.00 v-10.3 M1546.18 222.80 v5.2 M1546.18 724.00 v-5.2 M1575.66 222.80 v5.2 M1575.66 724.00 v-5.2 M1605.14 222.80 v5.2 M1605.14 724.00 v-5.2 M1634.62 222.80 v5.2 M1634.62 724.00 v-5.2 M1664.10 222.80 v10.3 M1664.10 724.00 v-10.3 M1693.58 222.80 v5.2 M1693.58 724.00 v-5.2 M1723.06 222.80 v5.2 M1723.06 724.00 v-5.2 M1752.54 222.80 v5.2 M1752.54 724.00 v-5.2 M1782.02 222.80 v5.2 M1782.02 724.00 v-5.2 M1074.50 234.60 h14.5 M1811.50 234.60 h-14.5 M1074.50 250.51 h7.5 M1811.50 250.51 h-7.5 M1074.50 266.42 h7.5 M1811.50 266.42 h-7.5 M1074.50 282.33 h7.5 M1811.50 282.33 h-7.5 M1074.50 298.24 h7.5 M1811.50 298.24 h-7.5 M1074.50 314.15 h14.5 M1811.50 314.15 h-14.5 M1074.50 330.06 h7.5 M1811.50 330.06 h-7.5 M1074.50 345.97 h7.5 M1811.50 345.97 h-7.5 M1074.50 361.88 h7.5 M1811.50 361.88 h-7.5 M1074.50 377.79 h7.5 M1811.50 377.79 h-7.5 M1074.50 393.70 h14.5 M1811.50 393.70 h-14.5 M1074.50 409.61 h7.5 M1811.50 409.61 h-7.5 M1074.50 425.52 h7.5 M1811.50 425.52 h-7.5 M1074.50 441.43 h7.5 M1811.50 441.43 h-7.5 M1074.50 457.34 h7.5 M1811.50 457.34 h-7.5 M1074.50 473.25 h14.5 M1811.50 473.25 h-14.5 M1074.50 489.16 h7.5 M1811.50 489.16 h-7.5 M1074.50 505.07 h7.5 M1811.50 505.07 h-7.5 M1074.50 520.98 h7.5 M1811.50 520.98 h-7.5 M1074.50 536.89 h7.5 M1811.50 536.89 h-7.5 M1074.50 552.80 h14.5 M1811.50 552.80 h-14.5 M1074.50 568.71 h7.5 M1811.50 568.71 h-7.5 M1074.50 584.62 h7.5 M1811.50 584.62 h-7.5 M1074.50 600.53 h7.5 M1811.50 600.53 h-7.5 M1074.50 616.44 h7.5 M1811.50 616.44 h-7.5 M1074.50 632.35 h14.5 M1811.50 632.35 h-14.5 M1074.50 648.26 h7.5 M1811.50 648.26 h-7.5 M1074.50 664.17 h7.5 M1811.50 664.17 h-7.5 M1074.50 680.08 h7.5 M1811.50 680.08 h-7.5 M1074.50 695.99 h7.5 M1811.50 695.99 h-7.5 M1074.50 711.90 h14.5 M1811.50 711.90 h-14.5" fill="none" stroke="#111" stroke-width="1.25"/>
<path d="M1010.56 224.95 L1000.42 247.00 M996.36 224.95 L1010.56 224.95 M1018.67 244.90 L1017.66 245.95 L1018.67 247.00 L1019.68 245.95 L1018.67 244.90 M1032.87 224.95 L1029.82 226.00 L1027.80 229.15 L1026.78 234.40 L1026.78 237.55 L1027.80 242.80 L1029.82 245.95 L1032.87 247.00 L1034.89 247.00 L1037.94 245.95 L1039.96 242.80 L1040.98 237.55 L1040.98 234.40 L1039.96 229.15 L1037.94 226.00 L1034.89 224.95 L1032.87 224.95 M1053.15 224.95 L1050.10 226.00 L1048.08 229.15 L1047.06 234.40 L1047.06 237.55 L1048.08 242.80 L1050.10 245.95 L1053.15 247.00 L1055.17 247.00 L1058.22 245.95 L1060.24 242.80 L1061.26 237.55 L1061.26 234.40 L1060.24 229.15 L1058.22 226.00 L1055.17 224.95 L1053.15 224.95" fill="none" stroke="#000" stroke-width="2.4" stroke-linecap="butt" stroke-linejoin="round"/>
<path d="M1010.56 304.50 L1000.42 326.55 M996.36 304.50 L1010.56 304.50 M1018.67 324.45 L1017.66 325.50 L1018.67 326.55 L1019.68 325.50 L1018.67 324.45 M1032.87 304.50 L1029.82 305.55 L1027.80 308.70 L1026.78 313.95 L1026.78 317.10 L1027.80 322.35 L1029.82 325.50 L1032.87 326.55 L1034.89 326.55 L1037.94 325.50 L1039.96 322.35 L1040.98 317.10 L1040.98 313.95 L1039.96 308.70 L1037.94 305.55 L1034.89 304.50 L1032.87 304.50 M1059.23 304.50 L1049.09 304.50 L1048.08 313.95 L1049.09 312.90 L1052.13 311.85 L1055.17 311.85 L1058.22 312.90 L1060.24 315.00 L1061.26 318.15 L1061.26 320.25 L1060.24 323.40 L1058.22 325.50 L1055.17 326.55 L1052.13 326.55 L1049.09 325.50 L1048.08 324.45 L1047.06 322.35" fill="none" stroke="#000" stroke-width="2.4" stroke-linecap="butt" stroke-linejoin="round"/>
<path d="M1010.56 384.05 L1000.42 406.10 M996.36 384.05 L1010.56 384.05 M1018.67 404.00 L1017.66 405.05 L1018.67 406.10 L1019.68 405.05 L1018.67 404.00 M1029.82 388.25 L1031.85 387.20 L1034.89 384.05 L1034.89 406.10 M1053.15 384.05 L1050.10 385.10 L1048.08 388.25 L1047.06 393.50 L1047.06 396.65 L1048.08 401.90 L1050.10 405.05 L1053.15 406.10 L1055.17 406.10 L1058.22 405.05 L1060.24 401.90 L1061.26 396.65 L1061.26 393.50 L1060.24 388.25 L1058.22 385.10 L1055.17 384.05 L1053.15 384.05" fill="none" stroke="#000" stroke-width="2.4" stroke-linecap="butt" stroke-linejoin="round"/>
<path d="M1010.56 463.60 L1000.42 485.65 M996.36 463.60 L1010.56 463.60 M1018.67 483.55 L1017.66 484.60 L1018.67 485.65 L1019.68 484.60 L1018.67 483.55 M1029.82 467.80 L1031.85 466.75 L1034.89 463.60 L1034.89 485.65 M1059.23 463.60 L1049.09 463.60 L1048.08 473.05 L1049.09 472.00 L1052.13 470.95 L1055.17 470.95 L1058.22 472.00 L1060.24 474.10 L1061.26 477.25 L1061.26 479.35 L1060.24 482.50 L1058.22 484.60 L1055.17 485.65 L1052.13 485.65 L1049.09 484.60 L1048.08 483.55 L1047.06 481.45" fill="none" stroke="#000" stroke-width="2.4" stroke-linecap="butt" stroke-linejoin="round"/>
<path d="M1010.56 543.15 L1000.42 565.20 M996.36 543.15 L1010.56 543.15 M1018.67 563.10 L1017.66 564.15 L1018.67 565.20 L1019.68 564.15 L1018.67 563.10 M1027.80 548.40 L1027.80 547.35 L1028.81 545.25 L1029.82 544.20 L1031.85 543.15 L1035.91 543.15 L1037.94 544.20 L1038.95 545.25 L1039.96 547.35 L1039.96 549.45 L1038.95 551.55 L1036.92 554.70 L1026.78 565.20 L1040.98 565.20 M1053.15 543.15 L1050.10 544.20 L1048.08 547.35 L1047.06 552.60 L1047.06 555.75 L1048.08 561.00 L1050.10 564.15 L1053.15 565.20 L1055.17 565.20 L1058.22 564.15 L1060.24 561.00 L1061.26 555.75 L1061.26 552.60 L1060.24 547.35 L1058.22 544.20 L1055.17 543.15 L1053.15 543.15" fill="none" stroke="#000" stroke-width="2.4" stroke-linecap="butt" stroke-linejoin="round"/>
<path d="M1010.56 622.70 L1000.42 644.75 M996.36 622.70 L1010.56 622.70 M1018.67 642.65 L1017.66 643.70 L1018.67 644.75 L1019.68 643.70 L1018.67 642.65 M1027.80 627.95 L1027.80 626.90 L1028.81 624.80 L1029.82 623.75 L1031.85 622.70 L1035.91 622.70 L1037.94 623.75 L1038.95 624.80 L1039.96 626.90 L1039.96 629.00 L1038.95 631.10 L1036.92 634.25 L1026.78 644.75 L1040.98 644.75 M1059.23 622.70 L1049.09 622.70 L1048.08 632.15 L1049.09 631.10 L1052.13 630.05 L1055.17 630.05 L1058.22 631.10 L1060.24 633.20 L1061.26 636.35 L1061.26 638.45 L1060.24 641.60 L1058.22 643.70 L1055.17 644.75 L1052.13 644.75 L1049.09 643.70 L1048.08 642.65 L1047.06 640.55" fill="none" stroke="#000" stroke-width="2.4" stroke-linecap="butt" stroke-linejoin="round"/>
<path d="M1010.56 702.25 L1000.42 724.30 M996.36 702.25 L1010.56 702.25 M1018.67 722.20 L1017.66 723.25 L1018.67 724.30 L1019.68 723.25 L1018.67 722.20 M1028.81 702.25 L1039.96 702.25 L1033.88 710.65 L1036.92 710.65 L1038.95 711.70 L1039.96 712.75 L1040.98 715.90 L1040.98 718.00 L1039.96 721.15 L1037.94 723.25 L1034.89 724.30 L1031.85 724.30 L1028.81 723.25 L1027.80 722.20 L1026.78 720.10 M1053.15 702.25 L1050.10 703.30 L1048.08 706.45 L1047.06 711.70 L1047.06 714.85 L1048.08 720.10 L1050.10 723.25 L1053.15 724.30 L1055.17 724.30 L1058.22 723.25 L1060.24 720.10 L1061.26 714.85 L1061.26 711.70 L1060.24 706.45 L1058.22 703.30 L1055.17 702.25 L1053.15 702.25" fill="none" stroke="#000" stroke-width="2.4" stroke-linecap="butt" stroke-linejoin="round"/>
<path d="M1039.52 752.05 L1041.55 751.00 L1044.59 747.85 L1044.59 769.90 M1062.85 747.85 L1059.80 748.90 L1057.78 752.05 L1056.76 757.30 L1056.76 760.45 L1057.78 765.70 L1059.80 768.85 L1062.85 769.90 L1064.87 769.90 L1067.92 768.85 L1069.94 765.70 L1070.96 760.45 L1070.96 757.30 L1069.94 752.05 L1067.92 748.90 L1064.87 747.85 L1062.85 747.85 M1083.13 747.85 L1080.08 748.90 L1078.06 752.05 L1077.04 757.30 L1077.04 760.45 L1078.06 765.70 L1080.08 768.85 L1083.13 769.90 L1085.15 769.90 L1088.20 768.85 L1090.22 765.70 L1091.24 760.45 L1091.24 757.30 L1090.22 752.05 L1088.20 748.90 L1085.15 747.85 L1083.13 747.85 M1103.41 747.85 L1100.36 748.90 L1098.34 752.05 L1097.32 757.30 L1097.32 760.45 L1098.34 765.70 L1100.36 768.85 L1103.41 769.90 L1105.43 769.90 L1108.48 768.85 L1110.50 765.70 L1111.52 760.45 L1111.52 757.30 L1110.50 752.05 L1108.48 748.90 L1105.43 747.85 L1103.41 747.85" fill="none" stroke="#000" stroke-width="2.4" stroke-linecap="butt" stroke-linejoin="round"/>
<path d="M1186.92 752.05 L1188.95 751.00 L1191.99 747.85 L1191.99 769.90 M1216.33 747.85 L1206.19 747.85 L1205.18 757.30 L1206.19 756.25 L1209.23 755.20 L1212.27 755.20 L1215.32 756.25 L1217.34 758.35 L1218.36 761.50 L1218.36 763.60 L1217.34 766.75 L1215.32 768.85 L1212.27 769.90 L1209.23 769.90 L1206.19 768.85 L1205.18 767.80 L1204.16 765.70 M1230.53 747.85 L1227.48 748.90 L1225.46 752.05 L1224.44 757.30 L1224.44 760.45 L1225.46 765.70 L1227.48 768.85 L1230.53 769.90 L1232.55 769.90 L1235.60 768.85 L1237.62 765.70 L1238.64 760.45 L1238.64 757.30 L1237.62 752.05 L1235.60 748.90 L1232.55 747.85 L1230.53 747.85 M1250.81 747.85 L1247.76 748.90 L1245.74 752.05 L1244.72 757.30 L1244.72 760.45 L1245.74 765.70 L1247.76 768.85 L1250.81 769.90 L1252.83 769.90 L1255.88 768.85 L1257.90 765.70 L1258.92 760.45 L1258.92 757.30 L1257.90 752.05 L1255.88 748.90 L1252.83 747.85 L1250.81 747.85" fill="none" stroke="#000" stroke-width="2.4" stroke-linecap="butt" stroke-linejoin="round"/>
<path d="M1332.30 753.10 L1332.30 752.05 L1333.31 749.95 L1334.32 748.90 L1336.35 747.85 L1340.41 747.85 L1342.44 748.90 L1343.45 749.95 L1344.46 752.05 L1344.46 754.15 L1343.45 756.25 L1341.42 759.40 L1331.28 769.90 L1345.48 769.90 M1357.65 747.85 L1354.60 748.90 L1352.58 752.05 L1351.56 757.30 L1351.56 760.45 L1352.58 765.70 L1354.60 768.85 L1357.65 769.90 L1359.67 769.90 L1362.72 768.85 L1364.74 765.70 L1365.76 760.45 L1365.76 757.30 L1364.74 752.05 L1362.72 748.90 L1359.67 747.85 L1357.65 747.85 M1377.93 747.85 L1374.88 748.90 L1372.86 752.05 L1371.84 757.30 L1371.84 760.45 L1372.86 765.70 L1374.88 768.85 L1377.93 769.90 L1379.95 769.90 L1383.00 768.85 L1385.02 765.70 L1386.04 760.45 L1386.04 757.30 L1385.02 752.05 L1383.00 748.90 L1379.95 747.85 L1377.93 747.85 M1398.21 747.85 L1395.16 748.90 L1393.14 752.05 L1392.12 757.30 L1392.12 760.45 L1393.14 765.70 L1395.16 768.85 L1398.21 769.90 L1400.23 769.90 L1403.28 768.85 L1405.30 765.70 L1406.32 760.45 L1406.32 757.30 L1405.30 752.05 L1403.28 748.90 L1400.23 747.85 L1398.21 747.85" fill="none" stroke="#000" stroke-width="2.4" stroke-linecap="butt" stroke-linejoin="round"/>
<path d="M1479.70 753.10 L1479.70 752.05 L1480.71 749.95 L1481.72 748.90 L1483.75 747.85 L1487.81 747.85 L1489.84 748.90 L1490.85 749.95 L1491.86 752.05 L1491.86 754.15 L1490.85 756.25 L1488.82 759.40 L1478.68 769.90 L1492.88 769.90 M1511.13 747.85 L1500.99 747.85 L1499.98 757.30 L1500.99 756.25 L1504.03 755.20 L1507.07 755.20 L1510.12 756.25 L1512.14 758.35 L1513.16 761.50 L1513.16 763.60 L1512.14 766.75 L1510.12 768.85 L1507.07 769.90 L1504.03 769.90 L1500.99 768.85 L1499.98 767.80 L1498.96 765.70 M1525.33 747.85 L1522.28 748.90 L1520.26 752.05 L1519.24 757.30 L1519.24 760.45 L1520.26 765.70 L1522.28 768.85 L1525.33 769.90 L1527.35 769.90 L1530.40 768.85 L1532.42 765.70 L1533.44 760.45 L1533.44 757.30 L1532.42 752.05 L1530.40 748.90 L1527.35 747.85 L1525.33 747.85 M1545.61 747.85 L1542.56 748.90 L1540.54 752.05 L1539.52 757.30 L1539.52 760.45 L1540.54 765.70 L1542.56 768.85 L1545.61 769.90 L1547.63 769.90 L1550.68 768.85 L1552.70 765.70 L1553.72 760.45 L1553.72 757.30 L1552.70 752.05 L1550.68 748.90 L1547.63 747.85 L1545.61 747.85" fill="none" stroke="#000" stroke-width="2.4" stroke-linecap="butt" stroke-linejoin="round"/>
<path d="M1628.11 747.85 L1639.26 747.85 L1633.18 756.25 L1636.22 756.25 L1638.25 757.30 L1639.26 758.35 L1640.28 761.50 L1640.28 763.60 L1639.26 766.75 L1637.24 768.85 L1634.19 769.90 L1631.15 769.90 L1628.11 768.85 L1627.10 767.80 L1626.08 765.70 M1652.45 747.85 L1649.40 748.90 L1647.38 752.05 L1646.36 757.30 L1646.36 760.45 L1647.38 765.70 L1649.40 768.85 L1652.45 769.90 L1654.47 769.90 L1657.52 768.85 L1659.54 765.70 L1660.56 760.45 L1660.56 757.30 L1659.54 752.05 L1657.52 748.90 L1654.47 747.85 L1652.45 747.85 M1672.73 747.85 L1669.68 748.90 L1667.66 752.05 L1666.64 757.30 L1666.64 760.45 L1667.66 765.70 L1669.68 768.85 L1672.73 769.90 L1674.75 769.90 L1677.80 768.85 L1679.82 765.70 L1680.84 760.45 L1680.84 757.30 L1679.82 752.05 L1677.80 748.90 L1674.75 747.85 L1672.73 747.85 M1693.01 747.85 L1689.96 748.90 L1687.94 752.05 L1686.92 757.30 L1686.92 760.45 L1687.94 765.70 L1689.96 768.85 L1693.01 769.90 L1695.03 769.90 L1698.08 768.85 L1700.10 765.70 L1701.12 760.45 L1701.12 757.30 L1700.10 752.05 L1698.08 748.90 L1695.03 747.85 L1693.01 747.85" fill="none" stroke="#000" stroke-width="2.4" stroke-linecap="butt" stroke-linejoin="round"/>
<path d="M1775.51 747.85 L1786.66 747.85 L1780.58 756.25 L1783.62 756.25 L1785.65 757.30 L1786.66 758.35 L1787.68 761.50 L1787.68 763.60 L1786.66 766.75 L1784.64 768.85 L1781.59 769.90 L1778.55 769.90 L1775.51 768.85 L1774.50 767.80 L1773.48 765.70 M1805.93 747.85 L1795.79 747.85 L1794.78 757.30 L1795.79 756.25 L1798.83 755.20 L1801.87 755.20 L1804.92 756.25 L1806.94 758.35 L1807.96 761.50 L1807.96 763.60 L1806.94 766.75 L1804.92 768.85 L1801.87 769.90 L1798.83 769.90 L1795.79 768.85 L1794.78 767.80 L1793.76 765.70 M1820.13 747.85 L1817.08 748.90 L1815.06 752.05 L1814.04 757.30 L1814.04 760.45 L1815.06 765.70 L1817.08 768.85 L1820.13 769.90 L1822.15 769.90 L1825.20 768.85 L1827.22 765.70 L1828.24 760.45 L1828.24 757.30 L1827.22 752.05 L1825.20 748.90 L1822.15 747.85 L1820.13 747.85 M1840.41 747.85 L1837.36 748.90 L1835.34 752.05 L1834.32 757.30 L1834.32 760.45 L1835.34 765.70 L1837.36 768.85 L1840.41 769.90 L1842.43 769.90 L1845.48 768.85 L1847.50 765.70 L1848.52 760.45 L1848.52 757.30 L1847.50 752.05 L1845.48 748.90 L1842.43 747.85 L1840.41 747.85" fill="none" stroke="#000" stroke-width="2.4" stroke-linecap="butt" stroke-linejoin="round"/>
<path d="M1318.59 787.95 L1318.59 810.00 M1318.59 787.95 L1327.72 787.95 L1330.76 789.00 L1331.77 790.05 L1332.79 792.15 L1332.79 794.25 L1331.77 796.35 L1330.76 797.40 L1327.72 798.45 M1318.59 798.45 L1327.72 798.45 L1330.76 799.50 L1331.77 800.55 L1332.79 802.65 L1332.79 805.80 L1331.77 807.90 L1330.76 808.95 L1327.72 810.00 L1318.59 810.00 M1351.04 795.30 L1351.04 810.00 M1351.04 798.45 L1349.01 796.35 L1346.98 795.30 L1343.94 795.30 L1341.91 796.35 L1339.89 798.45 L1338.87 801.60 L1338.87 803.70 L1339.89 806.85 L1341.91 808.95 L1343.94 810.00 L1346.98 810.00 L1349.01 808.95 L1351.04 806.85 M1359.15 795.30 L1359.15 810.00 M1359.15 801.60 L1360.17 798.45 L1362.19 796.35 L1364.22 795.30 L1367.26 795.30 M1370.31 795.30 L1376.39 810.00 M1382.47 795.30 L1376.39 810.00 L1374.36 814.87 L1372.33 817.31 L1370.31 818.53 L1369.29 818.53 M1389.57 787.95 L1389.57 805.80 L1390.59 808.95 L1392.61 810.00 L1394.64 810.00 M1386.53 795.30 L1393.63 795.30 M1399.71 787.95 L1400.73 789.00 L1401.74 787.95 L1400.73 786.90 L1399.71 787.95 M1400.73 795.30 L1400.73 810.00 M1408.84 795.30 L1408.84 810.00 M1408.84 799.50 L1411.88 796.35 L1413.91 795.30 L1416.95 795.30 L1418.98 796.35 L1419.99 799.50 L1419.99 810.00 M1419.99 799.50 L1423.03 796.35 L1425.06 795.30 L1428.10 795.30 L1430.13 796.35 L1431.15 799.50 L1431.15 810.00 M1438.24 801.60 L1450.41 801.60 L1450.41 799.50 L1449.40 797.40 L1448.38 796.35 L1446.36 795.30 L1443.31 795.30 L1441.29 796.35 L1439.26 798.45 L1438.24 801.60 L1438.24 803.70 L1439.26 806.85 L1441.29 808.95 L1443.31 810.00 L1446.36 810.00 L1448.38 808.95 L1450.41 806.85 M1480.83 783.75 L1478.80 785.85 L1476.78 789.00 L1474.75 793.20 L1473.73 798.45 L1473.73 802.65 L1474.75 807.90 L1476.78 812.10 L1478.80 815.25 L1480.83 817.35 M1499.08 787.95 L1499.08 810.00 M1499.08 798.45 L1497.06 796.35 L1495.03 795.30 L1491.99 795.30 L1489.96 796.35 L1487.93 798.45 L1486.92 801.60 L1486.92 803.70 L1487.93 806.85 L1489.96 808.95 L1491.99 810.00 L1495.03 810.00 L1497.06 808.95 L1499.08 806.85 M1518.35 795.30 L1518.35 810.00 M1518.35 798.45 L1516.32 796.35 L1514.29 795.30 L1511.25 795.30 L1509.22 796.35 L1507.20 798.45 L1506.18 801.60 L1506.18 803.70 L1507.20 806.85 L1509.22 808.95 L1511.25 810.00 L1514.29 810.00 L1516.32 808.95 L1518.35 806.85 M1524.43 795.30 L1530.52 810.00 M1536.60 795.30 L1530.52 810.00 L1528.49 814.87 L1526.46 817.31 L1524.43 818.53 L1523.42 818.53 M1552.83 798.45 L1551.81 796.35 L1548.77 795.30 L1545.73 795.30 L1542.69 796.35 L1541.67 798.45 L1542.69 800.55 L1544.71 801.60 L1549.78 802.65 L1551.81 803.70 L1552.83 805.80 L1552.83 806.85 L1551.81 808.95 L1548.77 810.00 L1545.73 810.00 L1542.69 808.95 L1541.67 806.85 M1558.91 783.75 L1560.94 785.85 L1562.97 789.00 L1564.99 793.20 L1566.01 798.45 L1566.01 802.65 L1564.99 807.90 L1562.97 812.10 L1560.94 815.25 L1558.91 817.35" fill="none" stroke="#000" stroke-width="2.4" stroke-linecap="butt" stroke-linejoin="round"/>
<path d="M901.30 452.95 L909.42 475.00 M917.53 452.95 L909.42 475.00 M945.92 448.75 L943.89 450.85 L941.86 454.00 L939.84 458.20 L938.82 463.45 L938.82 467.65 L939.84 472.90 L941.86 477.10 L943.89 480.25 L945.92 482.35 M953.02 460.30 L953.02 475.00 M953.02 464.50 L956.06 461.35 L958.09 460.30 L961.13 460.30 L963.16 461.35 L964.17 464.50 L964.17 475.00 M964.17 464.50 L967.21 461.35 L969.24 460.30 L972.28 460.30 L974.31 461.35 L975.33 464.50 L975.33 475.00 M994.59 460.30 L994.59 475.00 M994.59 463.45 L992.56 461.35 L990.54 460.30 L987.49 460.30 L985.47 461.35 L983.44 463.45 L982.42 466.60 L982.42 468.70 L983.44 471.85 L985.47 473.95 L987.49 475.00 L990.54 475.00 L992.56 473.95 L994.59 471.85 M1013.86 460.30 L1013.86 477.44 L1012.84 481.09 L1011.83 482.31 L1009.80 483.53 L1006.76 483.53 L1004.73 482.31 M1013.86 463.45 L1011.83 461.35 L1009.80 460.30 L1006.76 460.30 L1004.73 461.35 L1002.70 463.45 L1001.69 466.60 L1001.69 468.70 L1002.70 471.85 L1004.73 473.95 L1006.76 475.00 L1009.80 475.00 L1011.83 473.95 L1013.86 471.85 M1020.96 448.75 L1022.98 450.85 L1025.01 454.00 L1027.04 458.20 L1028.05 463.45 L1028.05 467.65 L1027.04 472.90 L1025.01 477.10 L1022.98 480.25 L1020.96 482.35" fill="none" stroke="#000" stroke-width="2.4" stroke-linecap="butt" stroke-linejoin="round" transform="rotate(-90 966.2 475)"/>
<path d="M1025.76 178.16 L1035.88 204.70 M1045.99 178.16 L1035.88 204.70 M1125.54 189.53 L1148.29 189.53 M1125.54 197.12 L1148.29 197.12 M1195.06 178.16 L1182.42 204.70 M1177.36 178.16 L1195.06 178.16 M1205.17 202.17 L1203.91 203.44 L1205.17 204.70 L1206.43 203.44 L1205.17 202.17 M1219.07 183.21 L1221.60 181.95 L1225.39 178.16 L1225.39 204.70 M1256.99 187.00 L1255.73 190.80 L1253.20 193.32 L1249.41 194.59 L1248.15 194.59 L1244.35 193.32 L1241.83 190.80 L1240.56 187.00 L1240.56 185.74 L1241.83 181.95 L1244.35 179.42 L1248.15 178.16 L1249.41 178.16 L1253.20 179.42 L1255.73 181.95 L1256.99 187.00 L1256.99 193.32 L1255.73 199.64 L1253.20 203.44 L1249.41 204.70 L1246.88 204.70 L1243.09 203.44 L1241.83 200.91 M1287.33 187.00 L1287.33 204.70 M1287.33 192.06 L1291.12 188.27 L1293.65 187.00 L1297.44 187.00 L1299.97 188.27 L1301.23 192.06 L1301.23 204.70 M1301.23 192.06 L1305.03 188.27 L1307.55 187.00 L1311.35 187.00 L1313.87 188.27 L1315.14 192.06 L1315.14 204.70 M1339.15 187.00 L1339.15 204.70 M1339.15 190.80 L1336.63 188.27 L1334.10 187.00 L1330.31 187.00 L1327.78 188.27 L1325.25 190.80 L1323.99 194.59 L1323.99 197.12 L1325.25 200.91 L1327.78 203.44 L1330.31 204.70 L1334.10 204.70 L1336.63 203.44 L1339.15 200.91 M1363.17 187.00 L1363.17 207.63 L1361.91 212.03 L1360.64 213.50 L1358.11 214.96 L1354.32 214.96 L1351.79 213.50 M1363.17 190.80 L1360.64 188.27 L1358.11 187.00 L1354.32 187.00 L1351.79 188.27 L1349.27 190.80 L1348.00 194.59 L1348.00 197.12 L1349.27 200.91 L1351.79 203.44 L1354.32 204.70 L1358.11 204.70 L1360.64 203.44 L1363.17 200.91 M1413.73 181.95 L1393.51 193.32 L1413.73 204.70 M1422.58 194.59 L1437.75 194.59 L1437.75 192.06 L1436.48 189.53 L1435.22 188.27 L1432.69 187.00 L1428.90 187.00 L1426.37 188.27 L1423.84 190.80 L1422.58 194.59 L1422.58 197.12 L1423.84 200.91 L1426.37 203.44 L1428.90 204.70 L1432.69 204.70 L1435.22 203.44 L1437.75 200.91 M1446.59 187.00 L1446.59 204.70 M1446.59 194.59 L1447.86 190.80 L1450.39 188.27 L1452.91 187.00 L1456.71 187.00 M1463.03 187.00 L1463.03 204.70 M1463.03 194.59 L1464.29 190.80 L1466.82 188.27 L1469.35 187.00 L1473.14 187.00 M1474.40 204.70 L1497.15 204.70 M1498.42 178.16 L1508.53 204.70 M1518.64 178.16 L1508.53 204.70 M1524.96 181.95 L1545.19 193.32 L1524.96 204.70 M1575.52 189.53 L1598.27 189.53 M1575.52 197.12 L1598.27 197.12 M1634.93 178.16 L1631.14 179.42 L1628.61 183.21 L1627.35 189.53 L1627.35 193.32 L1628.61 199.64 L1631.14 203.44 L1634.93 204.70 L1637.46 204.70 L1641.25 203.44 L1643.78 199.64 L1645.04 193.32 L1645.04 189.53 L1643.78 183.21 L1641.25 179.42 L1637.46 178.16 L1634.93 178.16 M1655.15 202.17 L1653.89 203.44 L1655.15 204.70 L1656.42 203.44 L1655.15 202.17 M1672.85 178.16 L1669.06 179.42 L1666.53 183.21 L1665.27 189.53 L1665.27 193.32 L1666.53 199.64 L1669.06 203.44 L1672.85 204.70 L1675.38 204.70 L1679.17 203.44 L1681.70 199.64 L1682.96 193.32 L1682.96 189.53 L1681.70 183.21 L1679.17 179.42 L1675.38 178.16 L1672.85 178.16 M1694.34 183.21 L1696.87 181.95 L1700.66 178.16 L1700.66 204.70 M1737.31 187.00 L1737.31 204.70 M1737.31 192.06 L1741.11 188.27 L1743.63 187.00 L1747.43 187.00 L1749.95 188.27 L1751.22 192.06 L1751.22 204.70 M1751.22 192.06 L1755.01 188.27 L1757.54 187.00 L1761.33 187.00 L1763.86 188.27 L1765.12 192.06 L1765.12 204.70 M1789.14 187.00 L1789.14 204.70 M1789.14 190.80 L1786.61 188.27 L1784.08 187.00 L1780.29 187.00 L1777.76 188.27 L1775.23 190.80 L1773.97 194.59 L1773.97 197.12 L1775.23 200.91 L1777.76 203.44 L1780.29 204.70 L1784.08 204.70 L1786.61 203.44 L1789.14 200.91 M1813.15 187.00 L1813.15 207.63 L1811.89 212.03 L1810.63 213.50 L1808.10 214.96 L1804.31 214.96 L1801.78 213.50 M1813.15 190.80 L1810.63 188.27 L1808.10 187.00 L1804.31 187.00 L1801.78 188.27 L1799.25 190.80 L1797.99 194.59 L1797.99 197.12 L1799.25 200.91 L1801.78 203.44 L1804.31 204.70 L1808.10 204.70 L1810.63 203.44 L1813.15 200.91" fill="none" stroke="#000" stroke-width="2.3" stroke-linejoin="round"/>
<path d="M1050.89 204.03 L1050.89 215.00 M1050.89 207.16 L1053.24 204.81 L1054.81 204.03 L1057.16 204.03 L1058.72 204.81 L1059.51 207.16 L1059.51 215.00 M1059.51 207.16 L1061.86 204.81 L1063.43 204.03 L1065.78 204.03 L1067.34 204.81 L1068.13 207.16 L1068.13 215.00 M1073.61 208.73 L1083.02 208.73 L1083.02 207.16 L1082.23 205.60 L1081.45 204.81 L1079.88 204.03 L1077.53 204.03 L1075.96 204.81 L1074.40 206.38 L1073.61 208.73 L1073.61 210.30 L1074.40 212.65 L1075.96 214.22 L1077.53 215.00 L1079.88 215.00 L1081.45 214.22 L1083.02 212.65 M1097.12 198.54 L1097.12 215.00 M1097.12 206.38 L1095.56 204.81 L1093.99 204.03 L1091.64 204.03 L1090.07 204.81 L1088.50 206.38 L1087.72 208.73 L1087.72 210.30 L1088.50 212.65 L1090.07 214.22 L1091.64 215.00 L1093.99 215.00 L1095.56 214.22 L1097.12 212.65" fill="none" stroke="#000" stroke-width="2.5" stroke-linejoin="round"/>
<path d="M1147.5 390.8h0 M1147.5 399.0h0 M1147.5 408.8h0 M1147.5 415.0h0 M1147.5 417.5h0 M1147.5 453.2h0 M1147.5 457.5h0 M1147.5 463.0h0" stroke="#4b0a5a" stroke-width="3.7" stroke-linecap="round" fill="none"/>
<path d="M1363.2 485.0h0 M1363.2 492.8h0 M1363.2 500.6h0 M1363.2 506.0h0 M1363.2 509.4h0 M1363.2 523.0h0 M1363.2 526.0h0 M1363.2 541.0h0 M1363.2 544.4h0 M1363.2 551.0h0 M1363.2 554.4h0 M1363.2 558.8h0 M1363.2 514.0h0 M1363.4 515.4h0 M1363.3 516.7h0 M1363.0 518.2h0 M1363.0 519.8h0 M1363.1 528.0h0 M1363.3 529.8h0 M1363.1 532.3h0 M1363.5 534.3h0 M1363.5 536.9h0 M1364.0 562.0h0 M1363.9 564.1h0 M1363.1 566.5h0 M1363.3 568.7h0 M1363.2 571.6h0 M1363.6 574.3h0 M1363.5 576.8h0 M1363.1 578.9h0 M1363.7 581.2h0 M1363.3 583.8h0 M1363.5 586.4h0 M1363.8 588.8h0 M1363.2 591.6h0 M1363.5 594.3h0 M1363.7 597.3h0 M1364.0 599.7h0 M1363.6 605.0h0 M1363.6 612.0h0 M1363.6 620.0h0 M1363.6 633.0h0 M1363.6 637.0h0 M1363.6 640.0h0 M1363.6 644.0h0 M1363.6 647.0h0 M1363.6 656.5h0" stroke="#55007d" stroke-width="3.7" stroke-linecap="round" fill="none"/>
<path d="M1366.2 477.6h0 M1366.2 483.5h0 M1366.2 494.4h0 M1368.8 487.4h0 M1365.8 506.0h0 M1365.8 508.8h0 M1368.9 512.7h0 M1366.5 518.0h0 M1366.5 522.2h0 M1368.8 518.0h0 M1368.8 522.2h0 M1368.0 575.0h0 M1367.0 583.7h0 M1366.5 528.8h0 M1365.3 593.9h0 M1366.9 630.8h0 M1370.6 596.5h0 M1364.8 594.7h0 M1368.9 639.3h0 M1367.7 581.8h0 M1367.5 609.6h0 M1371.3 602.9h0 M1367.9 558.7h0 M1367.8 571.1h0 M1367.7 580.3h0 M1368.5 544.5h0 M1368.4 617.7h0 M1368.0 539.8h0 M1369.8 630.3h0 M1365.8 533.8h0 M1368.7 631.8h0 M1369.0 624.0h0 M1366.9 574.7h0 M1371.4 567.8h0 M1365.0 542.4h0 M1368.1 545.5h0 M1369.3 583.2h0 M1368.0 595.9h0 M1368.2 575.1h0 M1364.8 569.0h0 M1366.2 608.2h0 M1366.0 586.9h0 M1366.2 530.6h0 M1368.7 633.7h0 M1364.8 621.3h0 M1367.3 571.9h0 M1368.5 601.4h0 M1369.1 531.6h0 M1368.5 543.8h0 M1368.0 565.5h0 M1368.0 542.5h0 M1367.7 536.4h0 M1368.3 630.7h0 M1368.8 598.9h0 M1369.1 566.4h0 M1370.5 568.4h0 M1370.4 645.2h0 M1367.2 580.9h0 M1368.1 536.5h0 M1367.7 565.8h0 M1371.3 543.7h0 M1370.1 526.8h0 M1367.3 541.9h0 M1370.2 590.3h0 M1368.4 643.4h0 M1367.5 629.3h0 M1366.7 568.7h0 M1368.3 544.4h0 M1365.8 619.0h0 M1368.6 564.2h0 M1371.2 644.2h0 M1369.1 628.0h0 M1364.9 614.3h0 M1366.3 551.7h0 M1367.8 527.5h0 M1367.7 527.4h0 M1369.4 608.5h0 M1364.8 640.7h0 M1369.4 644.5h0 M1367.2 640.5h0 M1369.0 551.7h0 M1368.7 548.0h0 M1370.4 633.8h0 M1365.4 626.5h0 M1368.3 621.6h0 M1365.9 534.3h0 M1364.8 619.4h0 M1366.9 615.5h0 M1368.2 620.3h0 M1369.5 564.6h0 M1364.8 572.3h0 M1370.7 573.0h0 M1367.1 544.7h0 M1370.3 539.5h0 M1371.2 622.4h0 M1370.3 541.8h0 M1364.8 604.2h0 M1367.1 566.7h0 M1367.7 525.7h0 M1366.7 642.4h0 M1366.2 637.9h0 M1370.3 576.9h0 M1365.6 549.7h0 M1367.6 554.7h0 M1369.3 595.5h0 M1367.2 555.6h0 M1368.5 635.0h0 M1365.7 567.2h0 M1368.6 634.3h0 M1369.8 575.3h0 M1367.0 588.9h0 M1369.9 587.9h0 M1368.2 546.3h0 M1368.3 524.5h0 M1366.9 581.8h0 M1366.5 612.5h0 M1367.4 587.2h0 M1368.2 591.8h0 M1367.2 592.4h0 M1367.5 554.3h0 M1371.1 585.9h0 M1368.2 592.5h0 M1364.8 578.1h0 M1365.8 598.7h0 M1367.9 608.5h0 M1366.0 579.2h0 M1367.6 638.9h0 M1371.1 609.3h0 M1365.0 555.7h0 M1371.2 592.3h0 M1366.8 540.7h0 M1367.3 538.8h0 M1368.2 553.4h0 M1366.5 532.9h0 M1365.2 633.4h0 M1367.4 542.8h0 M1365.4 541.4h0 M1369.2 631.7h0 M1367.7 640.2h0 M1364.8 572.6h0 M1368.4 625.6h0 M1366.0 543.7h0 M1368.9 565.4h0 M1366.8 547.9h0 M1370.6 526.4h0 M1367.7 591.6h0 M1368.1 564.4h0 M1367.3 600.1h0 M1367.9 644.2h0 M1368.8 620.2h0 M1367.9 556.4h0 M1368.3 528.8h0 M1366.6 539.8h0 M1370.8 575.5h0 M1366.2 555.6h0 M1370.0 542.2h0 M1366.9 609.5h0 M1370.6 534.9h0 M1369.0 575.9h0 M1370.4 532.8h0 M1367.0 621.8h0 M1368.4 534.2h0 M1367.5 629.3h0 M1366.8 579.4h0 M1369.9 637.1h0 M1369.5 556.7h0 M1369.6 553.1h0 M1368.3 537.4h0 M1368.5 548.6h0 M1367.0 562.1h0 M1370.9 559.4h0 M1368.7 585.0h0 M1369.5 526.2h0 M1370.9 554.6h0 M1368.3 591.2h0 M1364.8 547.1h0 M1368.7 537.0h0 M1366.1 623.9h0 M1368.9 625.8h0 M1365.3 572.0h0 M1367.9 643.9h0 M1369.4 565.8h0 M1365.5 601.6h0 M1367.7 573.4h0 M1368.5 539.8h0 M1367.9 532.6h0 M1366.6 543.9h0 M1370.0 534.3h0 M1364.9 605.8h0 M1368.1 558.4h0 M1369.5 580.1h0 M1366.7 543.2h0 M1368.5 641.3h0 M1366.7 642.7h0 M1367.6 641.8h0 M1367.9 561.8h0 M1368.1 570.6h0 M1366.8 581.9h0 M1368.0 585.6h0 M1367.9 524.6h0 M1368.8 572.7h0 M1369.5 529.1h0 M1368.2 552.4h0 M1365.1 595.4h0 M1367.5 604.2h0 M1369.3 611.4h0 M1366.8 563.8h0 M1369.7 644.1h0 M1370.3 602.5h0 M1369.9 529.3h0 M1364.8 600.5h0 M1368.4 613.5h0 M1367.1 587.9h0 M1369.7 585.5h0 M1365.2 624.8h0 M1370.1 595.3h0 M1366.3 608.6h0 M1368.9 552.1h0 M1368.2 568.0h0 M1369.2 536.8h0 M1366.0 600.6h0 M1367.1 600.4h0 M1366.1 524.4h0 M1368.0 621.3h0 M1365.9 589.3h0 M1370.7 604.4h0 M1368.8 650.0h0 M1368.8 653.8h0 M1368.8 660.0h0 M1368.8 663.0h0" stroke="#4600c8" stroke-width="3.7" stroke-linecap="round" fill="none"/>
<path d="M1364.7 551.8h0 M1365.9 553.3h0 M1365.9 546.2h0 M1365.5 637.1h0 M1365.5 567.1h0 M1366.0 602.7h0 M1365.8 594.8h0 M1364.9 531.1h0 M1365.9 552.0h0 M1365.6 557.9h0 M1364.7 523.5h0 M1365.8 553.7h0 M1365.8 603.7h0 M1365.5 556.3h0 M1365.4 576.8h0 M1366.2 536.0h0 M1366.4 545.5h0 M1364.6 632.5h0 M1366.1 576.2h0 M1365.4 636.2h0 M1365.0 553.7h0 M1365.0 633.6h0 M1364.9 590.6h0 M1366.3 583.8h0 M1366.1 537.6h0 M1366.2 582.0h0" stroke="#5004a6" stroke-width="3.7" stroke-linecap="round" fill="none"/>
<path d="M1407.3 461.2h0 M1407.3 464.5h0 M1407.3 482.0h0 M1407.3 484.9h0 M1407.3 494.7h0" stroke="#2000ff" stroke-width="3.7" stroke-linecap="round" fill="none"/>
<path d="M1431.5 319.5h0 M1431.5 323.0h0 M1431.5 329.0h0" stroke="#0030ff" stroke-width="3.7" stroke-linecap="round" fill="none"/>
<path d="M1481.0 383.2h0 M1481.0 399.0h0 M1481.0 417.5h0 M1481.0 419.5h0 M1481.0 425.5h0" stroke="#0070ff" stroke-width="3.7" stroke-linecap="round" fill="none"/>
<path d="M1536.4 236.4h0 M1536.5 242.5h0 M1536.7 243.6h0 M1536.1 244.8h0 M1536.4 245.7h0 M1536.3 246.9h0 M1536.3 247.9h0 M1536.6 249.0h0 M1536.6 250.0h0 M1536.1 251.4h0 M1536.5 252.8h0 M1536.3 254.2h0 M1536.3 255.3h0 M1536.5 259.0h0 M1536.3 260.0h0 M1536.1 261.0h0 M1536.6 262.0h0 M1536.7 263.0h0 M1536.2 264.0h0 M1536.2 265.1h0 M1536.7 266.1h0 M1536.6 267.4h0 M1536.7 268.5h0 M1536.4 269.8h0 M1536.1 271.0h0 M1536.4 272.2h0 M1536.5 273.4h0 M1536.1 274.4h0 M1536.1 275.7h0 M1536.3 276.8h0 M1536.6 277.8h0 M1536.2 279.1h0 M1536.3 280.3h0 M1536.3 281.4h0 M1536.2 282.4h0 M1536.7 283.4h0 M1536.2 284.5h0 M1536.7 285.7h0 M1536.1 286.8h0 M1536.1 287.8h0 M1536.1 288.8h0 M1536.2 289.8h0 M1536.7 290.9h0 M1536.3 292.1h0 M1536.4 293.2h0 M1536.3 294.2h0 M1536.2 295.2h0 M1536.1 296.5h0 M1536.5 297.6h0 M1536.2 298.8h0 M1536.2 299.8h0 M1536.4 300.9h0 M1536.6 302.2h0 M1536.1 303.4h0 M1536.5 304.3h0 M1536.4 305.6h0 M1536.1 306.7h0 M1536.7 307.8h0 M1536.6 309.0h0 M1536.2 310.3h0 M1536.2 311.3h0 M1536.5 312.4h0 M1536.6 313.7h0 M1536.6 314.8h0 M1536.4 315.9h0 M1536.6 316.8h0 M1536.7 317.8h0 M1536.3 319.0h0 M1536.2 319.9h0 M1536.5 321.1h0 M1536.1 322.0h0 M1536.5 323.1h0 M1536.2 326.5h0 M1536.1 327.9h0 M1536.4 329.0h0 M1536.5 330.6h0 M1536.4 332.1h0 M1536.2 333.2h0 M1536.5 334.8h0 M1536.1 336.0h0 M1536.5 337.3h0 M1536.4 341.8h0 M1536.2 344.5h0 M1536.7 346.0h0 M1536.1 347.2h0 M1536.3 348.6h0 M1536.2 350.1h0 M1536.6 351.6h0 M1536.2 353.0h0 M1536.5 355.5h0 M1536.4 357.2h0 M1536.8 358.5h0" stroke="#00bfff" stroke-width="3.7" stroke-linecap="round" fill="none"/>
<path d="M1585.1 389.8h0 M1585.1 402.5h0 M1585.1 404.5h0 M1585.1 408.0h0 M1585.1 410.5h0 M1585.1 413.0h0 M1585.1 421.0h0 M1585.1 422.5h0 M1585.1 424.4h0 M1585.1 429.4h0 M1585.1 435.0h0 M1585.1 437.5h0 M1585.5 441.0h0 M1584.8 442.1h0 M1585.0 443.2h0 M1585.5 444.4h0 M1585.0 445.4h0 M1585.5 446.4h0 M1584.7 447.4h0 M1585.0 448.3h0 M1585.4 449.7h0 M1585.5 450.9h0 M1585.0 452.3h0 M1585.4 453.3h0 M1584.7 454.5h0 M1585.0 455.8h0 M1585.0 456.9h0 M1584.7 457.9h0 M1585.0 458.9h0 M1584.8 460.3h0 M1584.9 461.6h0 M1585.4 462.7h0 M1585.0 464.0h0 M1585.1 465.0h0 M1585.4 466.0h0 M1585.0 467.1h0 M1584.7 468.4h0 M1585.3 469.5h0 M1584.7 470.8h0 M1584.8 471.7h0 M1584.9 473.0h0 M1585.4 474.3h0 M1584.9 475.4h0 M1585.2 476.7h0 M1585.3 477.8h0 M1584.9 478.9h0 M1585.3 479.8h0 M1585.2 481.1h0 M1584.7 482.5h0 M1585.1 483.5h0 M1585.5 484.9h0 M1584.9 486.0h0 M1585.1 487.1h0 M1584.8 488.4h0 M1585.3 489.7h0 M1585.3 491.0h0 M1585.0 492.2h0 M1585.0 493.3h0 M1584.8 494.6h0 M1585.3 495.6h0 M1584.8 496.6h0 M1585.1 497.5h0 M1585.5 498.6h0 M1585.5 499.9h0 M1584.8 501.0h0 M1585.1 501.9h0 M1585.1 503.2h0 M1585.0 504.2h0 M1585.2 505.4h0 M1585.4 506.7h0 M1584.8 507.9h0 M1584.9 509.2h0 M1585.0 510.4h0 M1584.9 511.7h0 M1584.9 512.7h0 M1585.4 513.7h0 M1585.0 514.9h0 M1585.1 520.0h0 M1585.1 527.5h0 M1585.1 530.0h0 M1585.1 538.8h0 M1585.1 540.2h0 M1585.1 548.4h0 M1585.1 554.0h0 M1585.1 563.5h0" stroke="#00f5ee" stroke-width="3.7" stroke-linecap="round" fill="none"/>
<path d="M1642.4 297.5h0 M1642.4 299.7h0 M1642.4 303.4h0 M1642.4 322.8h0 M1642.4 329.7h0 M1642.4 334.7h0 M1642.4 336.5h0 M1642.6 311.0h0 M1642.3 312.4h0 M1642.5 314.0h0 M1642.2 315.7h0 M1642.5 317.0h0 M1642.6 318.6h0" stroke="#00fab0" stroke-width="3.7" stroke-linecap="round" fill="none"/>
<path d="M1643.9 327.5h0 M1643.9 328.7h0 M1644.0 330.4h0 M1643.9 332.0h0 M1644.0 333.6h0 M1644.1 334.9h0 M1643.8 336.5h0 M1644.0 338.0h0 M1643.9 339.2h0 M1643.9 343.5h0 M1644.0 344.8h0 M1643.9 346.2h0 M1643.9 347.4h0 M1643.8 352.5h0 M1643.9 353.7h0 M1644.0 355.2h0 M1643.8 356.2h0 M1644.0 357.5h0 M1643.8 358.8h0 M1644.1 360.0h0 M1643.9 361.2h0 M1644.2 362.4h0 M1644.0 363.6h0 M1644.0 364.9h0 M1644.2 366.3h0 M1643.8 367.6h0 M1643.9 369.0h0 M1644.2 370.0h0 M1644.2 371.3h0 M1644.2 372.5h0 M1643.8 373.8h0 M1644.0 374.9h0 M1644.2 376.2h0 M1644.1 377.3h0 M1644.0 378.6h0 M1643.9 379.7h0 M1644.2 381.0h0 M1644.0 382.1h0 M1644.2 383.5h0 M1643.8 387.0h0 M1644.2 388.9h0 M1643.8 390.5h0 M1643.9 392.3h0 M1644.1 394.2h0 M1643.8 396.0h0 M1643.9 397.8h0 M1644.2 399.3h0 M1643.8 401.1h0 M1643.9 402.6h0" stroke="#00f545" stroke-width="3.7" stroke-linecap="round" fill="none"/>
<path d="M1694.8 491.9h0 M1694.8 505.0h0 M1694.8 520.0h0 M1694.8 527.5h0 M1693.2 507.5h0 M1693.2 508.8h0 M1693.2 515.0h0 M1693.2 523.0h0 M1693.2 530.0h0 M1693.2 532.5h0 M1694.5 539.4h0 M1694.3 540.5h0 M1695.0 541.9h0 M1694.7 543.0h0 M1694.1 544.4h0 M1694.2 545.9h0 M1694.7 547.2h0 M1694.4 548.6h0 M1694.7 549.9h0 M1694.8 551.1h0 M1694.5 552.4h0 M1694.7 553.5h0 M1694.3 554.7h0 M1695.2 556.5h0 M1694.8 557.8h0 M1694.8 559.1h0 M1695.0 560.2h0 M1695.0 561.3h0 M1694.7 562.6h0 M1694.7 563.9h0 M1695.2 565.4h0 M1694.7 566.7h0 M1694.9 569.4h0 M1694.8 570.9h0 M1695.3 572.4h0 M1695.2 573.8h0 M1695.3 575.0h0 M1695.3 576.3h0 M1692.5 545.6h0 M1692.5 561.5h0" stroke="#2df010" stroke-width="3.7" stroke-linecap="round" fill="none"/>
<path d="M1697.2 579.4h0 M1695.0 581.9h0 M1697.2 586.6h0 M1695.0 588.0h0 M1695.0 593.4h0" stroke="#55f010" stroke-width="3.7" stroke-linecap="round" fill="none"/>
<path d="M1697.2 607.2h0 M1697.2 611.0h0 M1697.2 616.8h0 M1697.2 625.1h0 M1697.2 632.2h0 M1697.2 634.7h0" stroke="#78f800" stroke-width="3.7" stroke-linecap="round" fill="none"/>
<path d="M1701.2 557.0h0 M1701.2 565.0h0 M1701.2 578.8h0 M1701.2 587.6h0 M1701.2 593.4h0" stroke="#c0ff10" stroke-width="3.7" stroke-linecap="round" fill="none"/>
<path d="M1705.6 417.5h0 M1705.6 452.9h0 M1705.6 500.9h0 M1705.6 510.0h0 M1705.6 511.9h0 M1705.6 515.6h0 M1705.6 538.8h0 M1705.6 540.6h0 M1705.6 549.1h0 M1705.6 562.7h0 M1705.6 566.6h0 M1705.6 575.8h0 M1705.6 581.2h0 M1705.6 588.2h0 M1705.6 605.6h0 M1705.6 609.4h0 M1705.6 621.3h0 M1705.6 623.4h0 M1705.6 628.6h0 M1705.6 631.9h0 M1705.6 640.0h0 M1705.6 649.4h0 M1705.6 651.5h0 M1705.6 655.0h0 M1705.6 659.7h0 M1705.6 662.5h0 M1705.6 665.0h0 M1705.6 668.1h0" stroke="#ff9a10" stroke-width="3.7" stroke-linecap="round" fill="none"/>
<path d="M1704.5 578.0h0 M1704.5 591.4h0 M1704.5 595.3h0 M1704.5 598.8h0 M1704.5 601.9h0 M1704.5 611.0h0" stroke="#ffe000" stroke-width="3.7" stroke-linecap="round" fill="none"/>
<path d="M1704.5 614.7h0" stroke="#ffb000" stroke-width="3.7" stroke-linecap="round" fill="none"/>
<path d="M1707.8 596.6h0 M1707.7 599.4h0 M1708.0 601.1h0 M1707.7 602.3h0 M1707.7 604.0h0 M1707.7 605.7h0 M1707.6 610.0h0 M1708.1 611.5h0 M1707.7 612.8h0 M1707.7 614.3h0 M1707.6 615.6h0 M1708.1 616.8h0 M1708.0 618.5h0 M1708.0 619.8h0 M1707.8 621.0h0 M1707.7 622.6h0 M1707.8 624.3h0 M1708.0 625.9h0 M1708.1 627.1h0 M1707.9 621.9h0 M1707.9 624.4h0 M1707.9 635.6h0 M1707.9 640.0h0 M1707.9 645.0h0 M1707.9 651.0h0 M1707.9 656.9h0 M1707.9 661.5h0" stroke="#ff5500" stroke-width="3.7" stroke-linecap="round" fill="none"/>
<path d="M1711.2 592.4h0 M1711.2 606.0h0 M1711.2 608.4h0 M1711.2 612.5h0 M1711.2 616.6h0 M1711.2 618.8h0 M1711.2 620.3h0 M1711.2 626.9h0 M1711.2 630.0h0 M1711.2 639.7h0 M1711.2 643.8h0 M1711.2 646.2h0 M1711.2 648.8h0 M1711.2 658.8h0 M1713.9 611.2h0 M1713.9 634.7h0 M1713.9 636.9h0 M1713.9 641.5h0 M1713.9 644.0h0 M1713.9 651.5h0 M1713.9 653.8h0 M1713.9 659.0h0 M1713.9 664.0h0 M1713.9 666.2h0 M1713.9 668.1h0 M1713.9 671.2h0" stroke="#ff0000" stroke-width="3.7" stroke-linecap="round" fill="none"/>
<path d="M167.50 880.75 H923.75 V1389.20 H167.50 Z M221.50 880.75 v10 M221.50 1389.20 v13 M328.87 880.75 v10 M328.87 1389.20 v13 M436.25 880.75 v10 M436.25 1389.20 v13 M543.63 880.75 v10 M543.63 1389.20 v13 M651.00 880.75 v10 M651.00 1389.20 v13 M758.38 880.75 v10 M758.38 1389.20 v13 M865.75 880.75 v10 M865.75 1389.20 v13 M178.55 1389.20 v6.5 M200.03 1389.20 v6.5 M242.97 1389.20 v6.5 M264.45 1389.20 v6.5 M285.93 1389.20 v6.5 M307.40 1389.20 v6.5 M350.35 1389.20 v6.5 M371.83 1389.20 v6.5 M393.30 1389.20 v6.5 M414.77 1389.20 v6.5 M457.73 1389.20 v6.5 M479.20 1389.20 v6.5 M500.67 1389.20 v6.5 M522.15 1389.20 v6.5 M565.10 1389.20 v6.5 M586.57 1389.20 v6.5 M608.05 1389.20 v6.5 M629.53 1389.20 v6.5 M672.47 1389.20 v6.5 M693.95 1389.20 v6.5 M715.43 1389.20 v6.5 M736.90 1389.20 v6.5 M779.85 1389.20 v6.5 M801.32 1389.20 v6.5 M822.80 1389.20 v6.5 M844.28 1389.20 v6.5 M887.22 1389.20 v6.5 M908.70 1389.20 v6.5 M167.50 1249.50 h15 M923.75 1249.50 h-15 M167.50 1109.50 h15 M923.75 1109.50 h-15 M167.50 969.50 h15 M923.75 969.50 h-15" fill="none" stroke="#000" stroke-width="2.6" stroke-linecap="butt"/>
<path d="M223.00 1389.50 V1294.30 H279.43 V1389.50 M279.43 1389.50 V1196.30 H335.86 V1389.50 M335.86 1389.50 V1249.50 H392.29 V1389.50 M392.29 1389.50 V1302.70 H448.72 V1389.50 M448.72 1389.50 V1302.70 H505.15 V1389.50 M505.15 1389.50 V1084.30 H561.58 V1389.50 M561.58 1389.50 V1131.90 H618.01 V1389.50 M618.01 1389.50 V1053.50 H674.44 V1389.50 M674.44 1389.50 V905.10 H730.87 V1389.50 M730.87 1389.50 V1003.10 H787.30 V1389.50 M787.30 1389.50 V1327.90 H843.73 V1389.50 M222.00 1389.50 H844.73" fill="none" stroke="#f00" stroke-width="2.4" stroke-linejoin="miter"/>
<path d="M202.78 1426.66 L192.66 1448.50 M188.62 1426.66 L202.78 1426.66 M210.88 1446.42 L209.87 1447.46 L210.88 1448.50 L211.89 1447.46 L210.88 1446.42 M225.05 1426.66 L222.01 1427.70 L219.99 1430.82 L218.98 1436.02 L218.98 1439.14 L219.99 1444.34 L222.01 1447.46 L225.05 1448.50 L227.07 1448.50 L230.11 1447.46 L232.13 1444.34 L233.14 1439.14 L233.14 1436.02 L232.13 1430.82 L230.11 1427.70 L227.07 1426.66 L225.05 1426.66 M245.29 1426.66 L242.25 1427.70 L240.23 1430.82 L239.22 1436.02 L239.22 1439.14 L240.23 1444.34 L242.25 1447.46 L245.29 1448.50 L247.31 1448.50 L250.35 1447.46 L252.37 1444.34 L253.38 1439.14 L253.38 1436.02 L252.37 1430.82 L250.35 1427.70 L247.31 1426.66 L245.29 1426.66" fill="none" stroke="#000" stroke-width="2.4" stroke-linecap="butt" stroke-linejoin="round"/>
<path d="M310.16 1426.66 L300.04 1448.50 M295.99 1426.66 L310.16 1426.66 M318.25 1446.42 L317.24 1447.46 L318.25 1448.50 L319.27 1447.46 L318.25 1446.42 M332.42 1426.66 L329.39 1427.70 L327.36 1430.82 L326.35 1436.02 L326.35 1439.14 L327.36 1444.34 L329.39 1447.46 L332.42 1448.50 L334.45 1448.50 L337.48 1447.46 L339.51 1444.34 L340.52 1439.14 L340.52 1436.02 L339.51 1430.82 L337.48 1427.70 L334.45 1426.66 L332.42 1426.66 M358.73 1426.66 L348.61 1426.66 L347.60 1436.02 L348.61 1434.98 L351.65 1433.94 L354.69 1433.94 L357.72 1434.98 L359.75 1437.06 L360.76 1440.18 L360.76 1442.26 L359.75 1445.38 L357.72 1447.46 L354.69 1448.50 L351.65 1448.50 L348.61 1447.46 L347.60 1446.42 L346.59 1444.34" fill="none" stroke="#000" stroke-width="2.4" stroke-linecap="butt" stroke-linejoin="round"/>
<path d="M417.53 1426.66 L407.41 1448.50 M403.37 1426.66 L417.53 1426.66 M425.63 1446.42 L424.62 1447.46 L425.63 1448.50 L426.64 1447.46 L425.63 1446.42 M436.76 1430.82 L438.79 1429.78 L441.82 1426.66 L441.82 1448.50 M460.04 1426.66 L457.00 1427.70 L454.98 1430.82 L453.97 1436.02 L453.97 1439.14 L454.98 1444.34 L457.00 1447.46 L460.04 1448.50 L462.06 1448.50 L465.10 1447.46 L467.12 1444.34 L468.13 1439.14 L468.13 1436.02 L467.12 1430.82 L465.10 1427.70 L462.06 1426.66 L460.04 1426.66" fill="none" stroke="#000" stroke-width="2.4" stroke-linecap="butt" stroke-linejoin="round"/>
<path d="M524.91 1426.66 L514.79 1448.50 M510.74 1426.66 L524.91 1426.66 M533.01 1446.42 L531.99 1447.46 L533.01 1448.50 L534.02 1447.46 L533.01 1446.42 M544.14 1430.82 L546.16 1429.78 L549.20 1426.66 L549.20 1448.50 M573.49 1426.66 L563.37 1426.66 L562.35 1436.02 L563.37 1434.98 L566.40 1433.94 L569.44 1433.94 L572.47 1434.98 L574.50 1437.06 L575.51 1440.18 L575.51 1442.26 L574.50 1445.38 L572.47 1447.46 L569.44 1448.50 L566.40 1448.50 L563.37 1447.46 L562.35 1446.42 L561.34 1444.34" fill="none" stroke="#000" stroke-width="2.4" stroke-linecap="butt" stroke-linejoin="round"/>
<path d="M632.28 1426.66 L622.16 1448.50 M618.12 1426.66 L632.28 1426.66 M640.38 1446.42 L639.37 1447.46 L640.38 1448.50 L641.39 1447.46 L640.38 1446.42 M649.49 1431.86 L649.49 1430.82 L650.50 1428.74 L651.51 1427.70 L653.54 1426.66 L657.58 1426.66 L659.61 1427.70 L660.62 1428.74 L661.63 1430.82 L661.63 1432.90 L660.62 1434.98 L658.60 1438.10 L648.48 1448.50 L662.64 1448.50 M674.79 1426.66 L671.75 1427.70 L669.73 1430.82 L668.72 1436.02 L668.72 1439.14 L669.73 1444.34 L671.75 1447.46 L674.79 1448.50 L676.81 1448.50 L679.85 1447.46 L681.87 1444.34 L682.88 1439.14 L682.88 1436.02 L681.87 1430.82 L679.85 1427.70 L676.81 1426.66 L674.79 1426.66" fill="none" stroke="#000" stroke-width="2.4" stroke-linecap="butt" stroke-linejoin="round"/>
<path d="M739.66 1426.66 L729.54 1448.50 M725.49 1426.66 L739.66 1426.66 M747.75 1446.42 L746.74 1447.46 L747.75 1448.50 L748.77 1447.46 L747.75 1446.42 M756.86 1431.86 L756.86 1430.82 L757.88 1428.74 L758.89 1427.70 L760.91 1426.66 L764.96 1426.66 L766.98 1427.70 L768.00 1428.74 L769.01 1430.82 L769.01 1432.90 L768.00 1434.98 L765.97 1438.10 L755.85 1448.50 L770.02 1448.50 M788.24 1426.66 L778.12 1426.66 L777.10 1436.02 L778.12 1434.98 L781.15 1433.94 L784.19 1433.94 L787.22 1434.98 L789.25 1437.06 L790.26 1440.18 L790.26 1442.26 L789.25 1445.38 L787.22 1447.46 L784.19 1448.50 L781.15 1448.50 L778.12 1447.46 L777.10 1446.42 L776.09 1444.34" fill="none" stroke="#000" stroke-width="2.4" stroke-linecap="butt" stroke-linejoin="round"/>
<path d="M847.03 1426.66 L836.91 1448.50 M832.87 1426.66 L847.03 1426.66 M855.13 1446.42 L854.12 1447.46 L855.13 1448.50 L856.14 1447.46 L855.13 1446.42 M865.25 1426.66 L876.38 1426.66 L870.31 1434.98 L873.35 1434.98 L875.37 1436.02 L876.38 1437.06 L877.39 1440.18 L877.39 1442.26 L876.38 1445.38 L874.36 1447.46 L871.32 1448.50 L868.29 1448.50 L865.25 1447.46 L864.24 1446.42 L863.23 1444.34 M889.54 1426.66 L886.50 1427.70 L884.48 1430.82 L883.47 1436.02 L883.47 1439.14 L884.48 1444.34 L886.50 1447.46 L889.54 1448.50 L891.56 1448.50 L894.60 1447.46 L896.62 1444.34 L897.63 1439.14 L897.63 1436.02 L896.62 1430.82 L894.60 1427.70 L891.56 1426.66 L889.54 1426.66" fill="none" stroke="#000" stroke-width="2.4" stroke-linecap="butt" stroke-linejoin="round"/>
<path d="M145.94 1368.66 L142.89 1369.70 L140.86 1372.82 L139.84 1378.02 L139.84 1381.14 L140.86 1386.34 L142.89 1389.46 L145.94 1390.50 L147.97 1390.50 L151.01 1389.46 L153.04 1386.34 L154.06 1381.14 L154.06 1378.02 L153.04 1372.82 L151.01 1369.70 L147.97 1368.66 L145.94 1368.66" fill="none" stroke="#000" stroke-width="2.4" stroke-linecap="butt" stroke-linejoin="round"/>
<path d="M131.72 1240.56 L121.58 1240.56 L120.56 1249.92 L121.58 1248.88 L124.62 1247.84 L127.66 1247.84 L130.71 1248.88 L132.74 1250.96 L133.75 1254.08 L133.75 1256.16 L132.74 1259.28 L130.71 1261.36 L127.66 1262.40 L124.62 1262.40 L121.58 1261.36 L120.56 1260.32 L119.55 1258.24 M145.94 1240.56 L142.89 1241.60 L140.86 1244.72 L139.84 1249.92 L139.84 1253.04 L140.86 1258.24 L142.89 1261.36 L145.94 1262.40 L147.97 1262.40 L151.01 1261.36 L153.04 1258.24 L154.06 1253.04 L154.06 1249.92 L153.04 1244.72 L151.01 1241.60 L147.97 1240.56 L145.94 1240.56" fill="none" stroke="#000" stroke-width="2.4" stroke-linecap="butt" stroke-linejoin="round"/>
<path d="M102.29 1104.72 L104.32 1103.68 L107.37 1100.56 L107.37 1122.40 M125.64 1100.56 L122.59 1101.60 L120.56 1104.72 L119.55 1109.92 L119.55 1113.04 L120.56 1118.24 L122.59 1121.36 L125.64 1122.40 L127.66 1122.40 L130.71 1121.36 L132.74 1118.24 L133.75 1113.04 L133.75 1109.92 L132.74 1104.72 L130.71 1101.60 L127.66 1100.56 L125.64 1100.56 M145.94 1100.56 L142.89 1101.60 L140.86 1104.72 L139.84 1109.92 L139.84 1113.04 L140.86 1118.24 L142.89 1121.36 L145.94 1122.40 L147.97 1122.40 L151.01 1121.36 L153.04 1118.24 L154.06 1113.04 L154.06 1109.92 L153.04 1104.72 L151.01 1101.60 L147.97 1100.56 L145.94 1100.56" fill="none" stroke="#000" stroke-width="2.4" stroke-linecap="butt" stroke-linejoin="round"/>
<path d="M102.29 964.72 L104.32 963.68 L107.37 960.56 L107.37 982.40 M131.72 960.56 L121.58 960.56 L120.56 969.92 L121.58 968.88 L124.62 967.84 L127.66 967.84 L130.71 968.88 L132.74 970.96 L133.75 974.08 L133.75 976.16 L132.74 979.28 L130.71 981.36 L127.66 982.40 L124.62 982.40 L121.58 981.36 L120.56 980.32 L119.55 978.24 M145.94 960.56 L142.89 961.60 L140.86 964.72 L139.84 969.92 L139.84 973.04 L140.86 978.24 L142.89 981.36 L145.94 982.40 L147.97 982.40 L151.01 981.36 L153.04 978.24 L154.06 973.04 L154.06 969.92 L153.04 964.72 L151.01 961.60 L147.97 960.56 L145.94 960.56" fill="none" stroke="#000" stroke-width="2.4" stroke-linecap="butt" stroke-linejoin="round"/>
<path d="M479.74 1465.76 L487.86 1487.60 M495.98 1465.76 L487.86 1487.60 M524.40 1461.60 L522.37 1463.68 L520.34 1466.80 L518.31 1470.96 L517.29 1476.16 L517.29 1480.32 L518.31 1485.52 L520.34 1489.68 L522.37 1492.80 L524.40 1494.88 M531.50 1473.04 L531.50 1487.60 M531.50 1477.20 L534.55 1474.08 L536.58 1473.04 L539.62 1473.04 L541.66 1474.08 L542.67 1477.20 L542.67 1487.60 M542.67 1477.20 L545.72 1474.08 L547.75 1473.04 L550.79 1473.04 L552.82 1474.08 L553.84 1477.20 L553.84 1487.60 M573.12 1473.04 L573.12 1487.60 M573.12 1476.16 L571.09 1474.08 L569.06 1473.04 L566.02 1473.04 L563.99 1474.08 L561.96 1476.16 L560.94 1479.28 L560.94 1481.36 L561.96 1484.48 L563.99 1486.56 L566.02 1487.60 L569.06 1487.60 L571.09 1486.56 L573.12 1484.48 M592.41 1473.04 L592.41 1490.01 L591.39 1493.63 L590.38 1494.84 L588.35 1496.04 L585.30 1496.04 L583.27 1494.84 M592.41 1476.16 L590.38 1474.08 L588.35 1473.04 L585.30 1473.04 L583.27 1474.08 L581.24 1476.16 L580.23 1479.28 L580.23 1481.36 L581.24 1484.48 L583.27 1486.56 L585.30 1487.60 L588.35 1487.60 L590.38 1486.56 L592.41 1484.48 M599.51 1461.60 L601.54 1463.68 L603.57 1466.80 L605.60 1470.96 L606.62 1476.16 L606.62 1480.32 L605.60 1485.52 L603.57 1489.68 L601.54 1492.80 L599.51 1494.88" fill="none" stroke="#000" stroke-width="2.4" stroke-linecap="butt" stroke-linejoin="round"/>
<path d="M61.00 1115.37 L61.00 1137.00 M61.00 1115.37 L75.00 1137.00 M75.00 1115.37 L75.00 1137.00" fill="none" stroke="#000" stroke-width="2.4" stroke-linecap="butt" stroke-linejoin="round" transform="rotate(-90 68 1137)"/>
</svg>
</body></html>
